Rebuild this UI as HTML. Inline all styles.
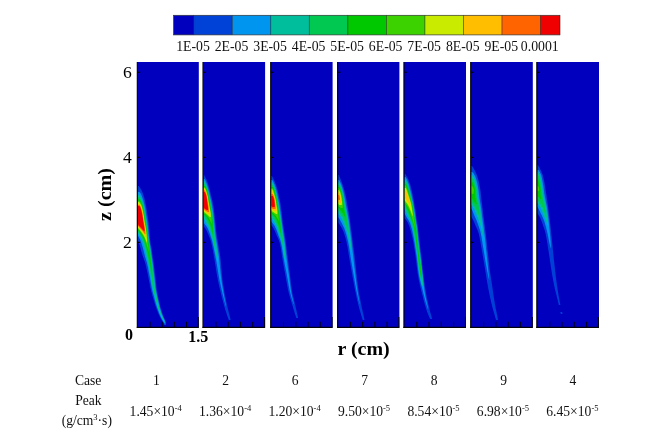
<!DOCTYPE html>
<html lang="en"><head><meta charset="utf-8"><title>Figure</title>
<style>html,body{margin:0;padding:0;background:#fff}body{width:671px;height:436px;overflow:hidden}</style></head>
<body>
<svg width="671" height="436" viewBox="0 0 671 436" style="display:block;font-family:'Liberation Serif','Times New Roman',serif">
<defs><filter id="bl" x="-5%" y="-5%" width="110%" height="110%"><feGaussianBlur stdDeviation="0.55"/></filter></defs>
<rect width="671" height="436" fill="#fff"/>
<rect x="173.60" y="15.30" width="20.40" height="19.60" fill="#0000be"/>
<rect x="193.70" y="15.30" width="38.83" height="19.60" fill="#0041d7"/>
<rect x="232.23" y="15.30" width="38.83" height="19.60" fill="#0096f0"/>
<rect x="270.76" y="15.30" width="38.83" height="19.60" fill="#00be9b"/>
<rect x="309.29" y="15.30" width="38.83" height="19.60" fill="#00c850"/>
<rect x="347.82" y="15.30" width="38.83" height="19.60" fill="#00c800"/>
<rect x="386.35" y="15.30" width="38.83" height="19.60" fill="#3cd200"/>
<rect x="424.88" y="15.30" width="38.83" height="19.60" fill="#c8eb00"/>
<rect x="463.41" y="15.30" width="38.83" height="19.60" fill="#ffbe00"/>
<rect x="501.94" y="15.30" width="38.83" height="19.60" fill="#ff6400"/>
<rect x="540.47" y="15.30" width="19.68" height="19.60" fill="#f00000"/>
<rect x="193.35" y="15.30" width="0.7" height="19.60" fill="#222" opacity="0.8"/>
<rect x="231.88" y="15.30" width="0.7" height="19.60" fill="#222" opacity="0.8"/>
<rect x="270.41" y="15.30" width="0.7" height="19.60" fill="#222" opacity="0.8"/>
<rect x="308.94" y="15.30" width="0.7" height="19.60" fill="#222" opacity="0.8"/>
<rect x="347.47" y="15.30" width="0.7" height="19.60" fill="#222" opacity="0.8"/>
<rect x="386.00" y="15.30" width="0.7" height="19.60" fill="#222" opacity="0.8"/>
<rect x="424.53" y="15.30" width="0.7" height="19.60" fill="#222" opacity="0.8"/>
<rect x="463.06" y="15.30" width="0.7" height="19.60" fill="#222" opacity="0.8"/>
<rect x="501.59" y="15.30" width="0.7" height="19.60" fill="#222" opacity="0.8"/>
<rect x="540.12" y="15.30" width="0.7" height="19.60" fill="#222" opacity="0.8"/>
<rect x="173.60" y="15.30" width="386.25" height="19.60" fill="none" stroke="#333" stroke-width="0.7"/>
<text transform="translate(193.00 50.7) scale(1.02 1.05)" font-size="13.5" text-anchor="middle" fill="#111">1E-05</text>
<text transform="translate(231.53 50.7) scale(1.02 1.05)" font-size="13.5" text-anchor="middle" fill="#111">2E-05</text>
<text transform="translate(270.06 50.7) scale(1.02 1.05)" font-size="13.5" text-anchor="middle" fill="#111">3E-05</text>
<text transform="translate(308.59 50.7) scale(1.02 1.05)" font-size="13.5" text-anchor="middle" fill="#111">4E-05</text>
<text transform="translate(347.12 50.7) scale(1.02 1.05)" font-size="13.5" text-anchor="middle" fill="#111">5E-05</text>
<text transform="translate(385.65 50.7) scale(1.02 1.05)" font-size="13.5" text-anchor="middle" fill="#111">6E-05</text>
<text transform="translate(424.18 50.7) scale(1.02 1.05)" font-size="13.5" text-anchor="middle" fill="#111">7E-05</text>
<text transform="translate(462.71 50.7) scale(1.02 1.05)" font-size="13.5" text-anchor="middle" fill="#111">8E-05</text>
<text transform="translate(501.24 50.7) scale(1.02 1.05)" font-size="13.5" text-anchor="middle" fill="#111">9E-05</text>
<text transform="translate(539.77 50.7) scale(1.02 1.05)" font-size="13.5" text-anchor="middle" fill="#111">0.0001</text>
<clipPath id="c0"><rect x="137.60" y="62.00" width="61.20" height="265.80"/></clipPath>
<rect x="137.40" y="62.00" width="61.40" height="265.80" fill="#0000be"/>
<g clip-path="url(#c0)"><g filter="url(#bl)">
<path fill="#0041d7" d="M137.9 186L137.9 187L137.9 188L137.9 189L137.9 190L137.9 191L137.9 192L137.9 193L137.9 194L137.9 195L137.9 196L137.9 197L137.9 198L137.9 199L137.9 200L137.9 201L137.9 202L137.9 203L137.9 204L137.9 205L137.9 206L137.9 207L137.9 208L137.9 209L137.9 210L137.9 211L137.9 212L137.9 213L137.9 214L137.9 215L137.9 216L137.9 217L137.9 218L137.9 219L137.9 220L137.9 221L137.9 222L137.9 223L137.9 224L137.9 225L137.9 226L137.9 227L137.9 228L137.9 229L137.9 230L137.9 231L137.9 232L137.9 233L137.9 234L137.9 235L137.9 236L137.9 237L137.9 238L137.9 239L137.9 240L138.2 241L138.6 242L138.9 243L139.3 244L139.6 245L139.9 246L140.2 247L140.5 248L140.7 249L141.0 250L141.3 251L141.5 252L141.8 253L142.1 254L142.4 255L142.7 256L143.1 257L143.5 258L143.8 259L144.2 260L144.5 261L144.9 262L145.2 263L145.5 264L145.7 265L146.0 266L146.2 267L146.4 268L146.6 269L146.9 270L147.1 271L147.3 272L147.5 273L147.7 274L147.9 275L148.1 276L148.3 277L148.5 278L148.7 279L148.9 280L149.1 281L149.3 282L149.5 283L149.7 284L149.8 285L150.0 286L150.2 287L150.5 288L150.7 289L150.9 290L151.2 291L151.4 292L151.7 293L152.0 294L152.2 295L152.5 296L152.8 297L153.1 298L153.4 299L153.7 300L154.0 301L154.3 302L154.6 303L154.9 304L155.2 305L155.5 306L155.9 307L156.2 308L156.6 309L157.0 310L157.4 311L157.7 312L158.1 313L158.6 314L159.0 315L159.5 316L159.9 317L160.5 318L161.0 319L161.6 320L162.2 321L162.8 322L163.4 323L163.9 324L164.2 325L166.1 325L166.1 324L165.9 323L165.7 322L165.4 321L165.0 320L164.6 319L164.2 318L163.7 317L163.3 316L163.0 315L162.6 314L162.3 313L161.9 312L161.6 311L161.3 310L161.0 309L160.7 308L160.4 307L160.2 306L159.9 305L159.7 304L159.4 303L159.2 302L159.0 301L158.8 300L158.6 299L158.4 298L158.1 297L157.9 296L157.7 295L157.5 294L157.3 293L157.2 292L157.0 291L156.8 290L156.7 289L156.5 288L156.4 287L156.3 286L156.2 285L156.1 284L156.0 283L155.8 282L155.7 281L155.6 280L155.5 279L155.4 278L155.3 277L155.2 276L155.1 275L155.0 274L154.8 273L154.7 272L154.6 271L154.5 270L154.4 269L154.2 268L154.1 267L154.0 266L153.9 265L153.7 264L153.6 263L153.5 262L153.3 261L153.2 260L153.0 259L152.9 258L152.7 257L152.6 256L152.4 255L152.3 254L152.2 253L152.0 252L151.9 251L151.7 250L151.6 249L151.4 248L151.2 247L151.1 246L150.9 245L150.7 244L150.5 243L150.4 242L150.2 241L150.1 240L149.9 239L149.8 238L149.7 237L149.6 236L149.5 235L149.5 234L149.4 233L149.4 232L149.3 231L149.2 230L149.2 229L149.1 228L149.0 227L148.9 226L148.8 225L148.7 224L148.6 223L148.5 222L148.3 221L148.2 220L148.0 219L147.9 218L147.7 217L147.6 216L147.4 215L147.3 214L147.1 213L147.0 212L146.8 211L146.7 210L146.5 209L146.3 208L146.2 207L146.0 206L145.8 205L145.6 204L145.4 203L145.2 202L145.0 201L144.7 200L144.5 199L144.3 198L144.0 197L143.7 196L143.4 195L143.1 194L142.7 193L142.3 192L141.9 191L141.3 190L140.8 189L140.1 188L139.4 187L138.8 186Z"/>
<path fill="#0096f0" d="M137.9 192L137.9 193L137.9 194L137.9 195L137.9 196L137.9 197L137.9 198L137.9 199L137.9 200L137.9 201L137.9 202L137.9 203L137.9 204L137.9 205L137.9 206L137.9 207L137.9 208L137.9 209L137.9 210L137.9 211L137.9 212L137.9 213L137.9 214L137.9 215L137.9 216L137.9 217L137.9 218L137.9 219L137.9 220L137.9 221L137.9 222L137.9 223L137.9 224L137.9 225L137.9 226L137.9 227L137.9 228L137.9 229L137.9 230L137.9 231L137.9 232L137.9 233L137.9 234L137.9 235L138.0 236L138.7 237L139.3 238L139.8 239L140.3 240L140.7 241L141.1 242L141.4 243L141.7 244L142.0 245L142.3 246L142.6 247L142.9 248L143.2 249L143.4 250L143.7 251L143.9 252L144.2 253L144.4 254L144.7 255L144.9 256L145.2 257L145.5 258L145.8 259L146.1 260L146.4 261L146.7 262L147.0 263L147.2 264L147.4 265L147.6 266L147.9 267L148.1 268L148.3 269L148.4 270L148.6 271L148.8 272L149.0 273L149.2 274L149.4 275L149.6 276L149.8 277L149.9 278L150.1 279L150.3 280L150.5 281L150.6 282L150.8 283L151.0 284L151.2 285L151.4 286L151.5 287L151.7 288L151.9 289L152.2 290L152.4 291L152.7 292L152.9 293L153.2 294L153.5 295L153.8 296L154.0 297L154.3 298L154.5 299L154.8 300L155.1 301L155.4 302L155.6 303L155.9 304L156.2 305L156.6 306L156.9 307L157.2 308L157.6 309L157.9 310L158.3 311L158.7 312L159.0 313L159.5 314L159.9 315L160.3 316L160.8 317L161.3 318L161.8 319L162.4 320L163.0 321L163.6 322L164.2 323L165.0 324L165.1 324L165.4 323L165.2 322L164.9 321L164.5 320L164.0 319L163.6 318L163.1 317L162.7 316L162.3 315L161.9 314L161.6 313L161.2 312L160.9 311L160.6 310L160.3 309L160.0 308L159.7 307L159.5 306L159.2 305L159.0 304L158.7 303L158.5 302L158.3 301L158.1 300L157.9 299L157.6 298L157.4 297L157.2 296L157.0 295L156.8 294L156.6 293L156.4 292L156.2 291L156.0 290L155.8 289L155.7 288L155.6 287L155.4 286L155.3 285L155.2 284L155.1 283L155.0 282L154.9 281L154.8 280L154.7 279L154.6 278L154.5 277L154.3 276L154.2 275L154.1 274L154.0 273L153.9 272L153.7 271L153.6 270L153.5 269L153.4 268L153.3 267L153.1 266L153.0 265L152.9 264L152.8 263L152.6 262L152.5 261L152.3 260L152.2 259L152.0 258L151.9 257L151.8 256L151.6 255L151.5 254L151.3 253L151.2 252L151.1 251L150.9 250L150.8 249L150.6 248L150.5 247L150.3 246L150.1 245L149.9 244L149.8 243L149.6 242L149.4 241L149.3 240L149.2 239L149.0 238L148.9 237L148.8 236L148.7 235L148.6 234L148.6 233L148.5 232L148.4 231L148.3 230L148.2 229L148.1 228L148.0 227L147.9 226L147.7 225L147.6 224L147.5 223L147.3 222L147.2 221L147.0 220L146.9 219L146.7 218L146.5 217L146.4 216L146.2 215L146.1 214L145.9 213L145.8 212L145.6 211L145.4 210L145.3 209L145.1 208L144.9 207L144.7 206L144.5 205L144.2 204L144.0 203L143.7 202L143.4 201L143.1 200L142.8 199L142.5 198L142.1 197L141.8 196L141.4 195L140.9 194L140.3 193L139.4 192Z"/>
<path fill="#00be9b" d="M137.9 195L137.9 196L137.9 197L137.9 198L137.9 199L137.9 200L137.9 201L137.9 202L137.9 203L137.9 204L137.9 205L137.9 206L137.9 207L137.9 208L137.9 209L137.9 210L137.9 211L137.9 212L137.9 213L137.9 214L137.9 215L137.9 216L137.9 217L137.9 218L137.9 219L137.9 220L137.9 221L137.9 222L137.9 223L137.9 224L137.9 225L137.9 226L137.9 227L137.9 228L137.9 229L137.9 230L137.9 231L137.9 232L137.9 233L138.4 234L139.1 235L139.8 236L140.4 237L141.0 238L141.5 239L141.9 240L142.3 241L142.6 242L142.9 243L143.3 244L143.6 245L143.9 246L144.2 247L144.4 248L144.7 249L144.9 250L145.2 251L145.4 252L145.6 253L145.9 254L146.1 255L146.3 256L146.6 257L146.9 258L147.1 259L147.4 260L147.6 261L147.9 262L148.1 263L148.3 264L148.5 265L148.7 266L148.9 267L149.1 268L149.3 269L149.5 270L149.6 271L149.8 272L150.0 273L150.2 274L150.3 275L150.5 276L150.7 277L150.9 278L151.0 279L151.2 280L151.4 281L151.5 282L151.7 283L151.9 284L152.0 285L152.2 286L152.4 287L152.6 288L152.8 289L153.0 290L153.2 291L153.5 292L153.7 293L154.0 294L154.3 295L154.6 296L154.8 297L155.1 298L155.3 299L155.6 300L155.8 301L156.1 302L156.4 303L156.6 304L156.9 305L157.2 306L157.5 307L157.9 308L158.2 309L158.5 310L158.9 311L159.3 312L159.6 313L160.0 314L160.5 315L160.9 316L161.4 317L161.9 318L162.4 319L162.9 320L163.5 321L164.1 322L164.7 322L164.4 321L164.0 320L163.5 319L163.1 318L162.6 317L162.2 316L161.8 315L161.4 314L161.0 313L160.7 312L160.3 311L160.0 310L159.7 309L159.4 308L159.2 307L158.9 306L158.6 305L158.4 304L158.2 303L157.9 302L157.7 301L157.5 300L157.3 299L157.1 298L156.9 297L156.7 296L156.4 295L156.2 294L156.0 293L155.8 292L155.6 291L155.4 290L155.2 289L155.1 288L154.9 287L154.8 286L154.7 285L154.6 284L154.5 283L154.4 282L154.2 281L154.1 280L154.0 279L153.9 278L153.8 277L153.7 276L153.6 275L153.5 274L153.3 273L153.2 272L153.1 271L153.0 270L152.9 269L152.8 268L152.6 267L152.5 266L152.4 265L152.3 264L152.1 263L152.0 262L151.9 261L151.7 260L151.6 259L151.4 258L151.3 257L151.2 256L151.0 255L150.9 254L150.8 253L150.6 252L150.5 251L150.4 250L150.2 249L150.1 248L149.9 247L149.7 246L149.6 245L149.4 244L149.2 243L149.1 242L148.9 241L148.8 240L148.6 239L148.5 238L148.4 237L148.3 236L148.2 235L148.1 234L148.0 233L147.9 232L147.8 231L147.7 230L147.6 229L147.4 228L147.3 227L147.2 226L147.0 225L146.9 224L146.7 223L146.5 222L146.4 221L146.2 220L146.1 219L145.9 218L145.8 217L145.6 216L145.4 215L145.3 214L145.1 213L145.0 212L144.8 211L144.6 210L144.4 209L144.2 208L144.0 207L143.8 206L143.5 205L143.3 204L143.0 203L142.7 202L142.4 201L142.0 200L141.5 199L141.1 198L140.6 197L140.1 196L139.4 195Z"/>
<path fill="#00c850" d="M137.9 197L137.9 198L137.9 199L137.9 200L137.9 201L137.9 202L137.9 203L137.9 204L137.9 205L137.9 206L137.9 207L137.9 208L137.9 209L137.9 210L137.9 211L137.9 212L137.9 213L137.9 214L137.9 215L137.9 216L137.9 217L137.9 218L137.9 219L137.9 220L137.9 221L137.9 222L137.9 223L137.9 224L137.9 225L137.9 226L137.9 227L137.9 228L137.9 229L137.9 230L137.9 231L138.2 232L139.0 233L139.7 234L140.4 235L141.1 236L141.7 237L142.2 238L142.7 239L143.1 240L143.5 241L143.8 242L144.1 243L144.4 244L144.7 245L145.0 246L145.3 247L145.6 248L145.9 249L146.1 250L146.3 251L146.6 252L146.8 253L147.0 254L147.2 255L147.4 256L147.7 257L147.9 258L148.1 259L148.4 260L148.6 261L148.8 262L149.0 263L149.2 264L149.4 265L149.6 266L149.7 267L149.9 268L150.1 269L150.3 270L150.4 271L150.6 272L150.8 273L150.9 274L151.1 275L151.3 276L151.4 277L151.6 278L151.8 279L151.9 280L152.1 281L152.2 282L152.4 283L152.6 284L152.7 285L152.9 286L153.1 287L153.2 288L153.4 289L153.7 290L153.9 291L154.1 292L154.4 293L154.7 294L155.0 295L155.2 296L155.5 297L155.7 298L156.0 299L156.2 300L156.5 301L156.7 302L157.0 303L157.2 304L157.5 305L157.8 306L158.1 307L158.4 308L158.8 309L159.1 310L159.1 310L158.9 309L158.7 308L158.4 307L158.2 306L157.9 305L157.7 304L157.5 303L157.3 302L157.1 301L156.9 300L156.7 299L156.5 298L156.3 297L156.0 296L155.8 295L155.6 294L155.3 293L155.1 292L154.9 291L154.7 290L154.5 289L154.4 288L154.3 287L154.1 286L154.0 285L153.9 284L153.8 283L153.7 282L153.6 281L153.5 280L153.4 279L153.3 278L153.2 277L153.1 276L153.0 275L152.9 274L152.7 273L152.6 272L152.5 271L152.4 270L152.3 269L152.2 268L152.1 267L151.9 266L151.8 265L151.7 264L151.6 263L151.4 262L151.3 261L151.2 260L151.0 259L150.9 258L150.8 257L150.6 256L150.5 255L150.4 254L150.2 253L150.1 252L150.0 251L149.9 250L149.7 249L149.6 248L149.4 247L149.3 246L149.1 245L148.9 244L148.8 243L148.6 242L148.5 241L148.3 240L148.2 239L148.1 238L148.0 237L147.8 236L147.7 235L147.6 234L147.5 233L147.4 232L147.3 231L147.2 230L147.0 229L146.9 228L146.7 227L146.6 226L146.4 225L146.3 224L146.1 223L145.9 222L145.8 221L145.6 220L145.5 219L145.3 218L145.2 217L145.0 216L144.8 215L144.7 214L144.5 213L144.3 212L144.2 211L144.0 210L143.8 209L143.6 208L143.3 207L143.1 206L142.8 205L142.5 204L142.2 203L141.8 202L141.4 201L140.9 200L140.3 199L139.6 198L138.4 197Z"/>
<path fill="#00c800" d="M137.9 199L137.9 200L137.9 201L137.9 202L137.9 203L137.9 204L137.9 205L137.9 206L137.9 207L137.9 208L137.9 209L137.9 210L137.9 211L137.9 212L137.9 213L137.9 214L137.9 215L137.9 216L137.9 217L137.9 218L137.9 219L137.9 220L137.9 221L137.9 222L137.9 223L137.9 224L137.9 225L137.9 226L137.9 227L137.9 228L137.9 229L137.9 230L138.6 231L139.4 232L140.1 233L140.9 234L141.5 235L142.2 236L142.8 237L143.3 238L143.7 239L144.1 240L144.4 241L144.8 242L145.1 243L145.4 244L145.7 245L146.0 246L146.3 247L146.6 248L146.9 249L147.1 250L147.3 251L147.6 252L147.8 253L148.0 254L148.2 255L148.4 256L148.6 257L148.8 258L149.0 259L149.2 260L149.4 261L149.6 262L149.8 263L150.0 264L150.2 265L150.3 266L150.5 267L150.7 268L150.8 269L151.0 270L151.2 271L151.3 272L151.5 273L151.7 274L151.8 275L152.1 275L152.0 274L151.9 273L151.8 272L151.7 271L151.7 270L151.6 269L151.5 268L151.4 267L151.3 266L151.1 265L151.0 264L150.9 263L150.8 262L150.7 261L150.6 260L150.4 259L150.3 258L150.2 257L150.0 256L149.9 255L149.8 254L149.7 253L149.6 252L149.5 251L149.3 250L149.2 249L149.1 248L148.9 247L148.8 246L148.6 245L148.5 244L148.3 243L148.2 242L148.0 241L147.9 240L147.8 239L147.7 238L147.6 237L147.4 236L147.3 235L147.2 234L147.1 233L147.0 232L146.9 231L146.7 230L146.6 229L146.4 228L146.3 227L146.1 226L145.9 225L145.8 224L145.6 223L145.4 222L145.3 221L145.1 220L145.0 219L144.8 218L144.6 217L144.5 216L144.3 215L144.1 214L144.0 213L143.8 212L143.6 211L143.4 210L143.2 209L143.0 208L142.8 207L142.5 206L142.2 205L141.8 204L141.4 203L141.0 202L140.5 201L139.8 200L138.6 199Z"/>
<path fill="#3cd200" d="M137.9 201L137.9 202L137.9 203L137.9 204L137.9 205L137.9 206L137.9 207L137.9 208L137.9 209L137.9 210L137.9 211L137.9 212L137.9 213L137.9 214L137.9 215L137.9 216L137.9 217L137.9 218L137.9 219L137.9 220L137.9 221L137.9 222L137.9 223L137.9 224L137.9 225L137.9 226L137.9 227L137.9 228L138.0 229L138.9 230L139.7 231L140.4 232L141.2 233L141.9 234L142.5 235L143.1 236L143.7 237L144.2 238L144.6 239L145.0 240L145.3 241L145.7 242L146.0 243L146.3 244L146.6 245L147.0 246L147.3 247L147.6 248L147.9 249L148.1 250L148.4 251L148.6 252L148.7 252L148.7 251L148.6 250L148.6 249L148.5 248L148.4 247L148.3 246L148.1 245L148.0 244L147.8 243L147.7 242L147.6 241L147.5 240L147.4 239L147.3 238L147.2 237L147.1 236L146.9 235L146.8 234L146.7 233L146.6 232L146.5 231L146.3 230L146.2 229L146.0 228L145.8 227L145.7 226L145.5 225L145.3 224L145.1 223L145.0 222L144.8 221L144.6 220L144.5 219L144.3 218L144.2 217L144.0 216L143.9 215L143.7 214L143.5 213L143.3 212L143.1 211L142.9 210L142.7 209L142.5 208L142.2 207L141.9 206L141.6 205L141.1 204L140.7 203L140.1 202L139.4 201Z"/>
<path fill="#c8eb00" d="M137.9 202L137.9 203L137.9 204L137.9 205L137.9 206L137.9 207L137.9 208L137.9 209L137.9 210L137.9 211L137.9 212L137.9 213L137.9 214L137.9 215L137.9 216L137.9 217L137.9 218L137.9 219L137.9 220L137.9 221L137.9 222L137.9 223L137.9 224L137.9 225L137.9 226L137.9 227L138.0 228L139.0 229L139.8 230L140.6 231L141.4 232L142.1 233L142.8 234L143.5 235L144.0 236L144.6 237L145.0 238L145.4 239L145.8 240L146.2 241L146.6 242L147.0 243L147.0 243L147.1 242L147.0 241L147.0 240L146.9 239L146.8 238L146.7 237L146.6 236L146.5 235L146.4 234L146.3 233L146.2 232L146.1 231L145.9 230L145.8 229L145.6 228L145.4 227L145.3 226L145.1 225L144.9 224L144.7 223L144.5 222L144.4 221L144.2 220L144.1 219L143.9 218L143.8 217L143.6 216L143.4 215L143.3 214L143.1 213L142.9 212L142.7 211L142.5 210L142.3 209L142.0 208L141.7 207L141.4 206L141.0 205L140.4 204L139.8 203L138.9 202Z"/>
<path fill="#ffbe00" d="M137.9 204L137.9 205L137.9 206L137.9 207L137.9 208L137.9 209L137.9 210L137.9 211L137.9 212L137.9 213L137.9 214L137.9 215L137.9 216L137.9 217L137.9 218L137.9 219L137.9 220L137.9 221L137.9 222L137.9 223L137.9 224L137.9 225L137.9 226L138.1 227L139.0 228L139.9 229L140.8 230L141.6 231L142.3 232L143.1 233L143.7 234L144.4 235L145.0 236L145.5 237L146.2 237L146.1 236L146.1 235L146.0 234L145.9 233L145.8 232L145.7 231L145.5 230L145.4 229L145.2 228L145.0 227L144.8 226L144.7 225L144.5 224L144.3 223L144.1 222L144.0 221L143.8 220L143.7 219L143.5 218L143.4 217L143.2 216L143.0 215L142.9 214L142.7 213L142.5 212L142.3 211L142.1 210L141.8 209L141.5 208L141.2 207L140.8 206L140.3 205L139.6 204Z"/>
<path fill="#ff6400" d="M137.9 205L137.9 206L137.9 207L137.9 208L137.9 209L137.9 210L137.9 211L137.9 212L137.9 213L137.9 214L137.9 215L137.9 216L137.9 217L137.9 218L137.9 219L137.9 220L137.9 221L137.9 222L137.9 223L137.9 224L137.9 225L138.1 226L139.1 227L140.0 228L140.9 229L141.8 230L142.6 231L143.3 232L144.1 233L144.8 234L145.4 234L145.4 233L145.3 232L145.2 231L145.1 230L144.9 229L144.8 228L144.6 227L144.4 226L144.2 225L144.1 224L143.9 223L143.7 222L143.6 221L143.4 220L143.3 219L143.1 218L143.0 217L142.8 216L142.6 215L142.5 214L142.3 213L142.1 212L141.9 211L141.6 210L141.4 209L141.0 208L140.7 207L140.2 206L139.5 205Z"/>
<path fill="#f00000" d="M137.9 206L137.9 207L137.9 208L137.9 209L137.9 210L137.9 211L137.9 212L137.9 213L137.9 214L137.9 215L137.9 216L137.9 217L137.9 218L137.9 219L137.9 220L137.9 221L137.9 222L137.9 223L137.9 224L138.3 225L139.2 226L140.2 227L141.1 228L142.0 229L142.9 230L143.8 231L144.6 231L144.5 230L144.4 229L144.3 228L144.1 227L144.0 226L143.8 225L143.6 224L143.5 223L143.3 222L143.1 221L143.0 220L142.9 219L142.8 218L142.6 217L142.4 216L142.3 215L142.1 214L141.9 213L141.7 212L141.4 211L141.2 210L140.9 209L140.5 208L140.1 207L139.4 206Z"/>
</g></g>
<rect x="136.75" y="62.00" width="1.15" height="265.95" fill="#000"/>
<rect x="136.75" y="326.80" width="62.05" height="1.15" fill="#000"/>
<rect x="137.90" y="241.81" width="2.3" height="1.1" fill="#000"/>
<rect x="137.90" y="156.77" width="2.3" height="1.1" fill="#000"/>
<rect x="137.90" y="71.73" width="2.3" height="1.1" fill="#000"/>
<rect x="149.55" y="321.80" width="1" height="5.20" fill="#000" opacity="0.9"/>
<rect x="161.70" y="321.80" width="1" height="5.20" fill="#000" opacity="0.9"/>
<rect x="173.85" y="321.80" width="1" height="5.20" fill="#000" opacity="0.9"/>
<rect x="186.00" y="321.80" width="1" height="5.20" fill="#000" opacity="0.9"/>
<rect x="197.70" y="317.00" width="1.1" height="10.00" fill="#000" opacity="0.9"/>
<clipPath id="c1"><rect x="203.30" y="62.00" width="61.80" height="265.80"/></clipPath>
<rect x="203.10" y="62.00" width="62.00" height="265.80" fill="#0000be"/>
<g clip-path="url(#c1)"><g filter="url(#bl)">
<path fill="#0041d7" d="M203.6 175L203.6 176L203.6 177L203.6 178L203.6 179L203.6 180L203.6 181L203.6 182L203.6 183L203.6 184L203.6 185L203.6 186L203.6 187L203.6 188L203.6 189L203.6 190L203.6 191L203.6 192L203.6 193L203.6 194L203.6 195L203.6 196L203.6 197L203.6 198L203.6 199L203.6 200L203.6 201L203.6 202L203.6 203L203.6 204L203.6 205L203.6 206L203.6 207L203.6 208L203.6 209L203.6 210L203.6 211L203.6 212L203.6 213L203.6 214L203.6 215L203.6 216L203.6 217L203.6 218L203.6 219L203.6 220L203.6 221L203.6 222L203.6 223L203.6 224L203.6 225L203.6 226L204.3 227L205.0 228L205.7 229L206.2 230L206.8 231L207.2 232L207.7 233L208.1 234L208.5 235L208.9 236L209.3 237L209.7 238L210.1 239L210.4 240L210.8 241L211.1 242L211.3 243L211.6 244L211.8 245L212.0 246L212.2 247L212.4 248L212.6 249L212.8 250L213.0 251L213.2 252L213.3 253L213.5 254L213.7 255L213.8 256L214.0 257L214.2 258L214.4 259L214.5 260L214.7 261L214.9 262L215.0 263L215.2 264L215.3 265L215.5 266L215.7 267L215.8 268L216.0 269L216.1 270L216.3 271L216.5 272L216.6 273L216.8 274L217.0 275L217.1 276L217.3 277L217.5 278L217.7 279L217.9 280L218.1 281L218.3 282L218.5 283L218.7 284L219.0 285L219.2 286L219.4 287L219.6 288L219.9 289L220.1 290L220.4 291L220.6 292L220.8 293L221.1 294L221.3 295L221.6 296L221.8 297L222.1 298L222.3 299L222.6 300L222.9 301L223.1 302L223.4 303L223.7 304L224.0 305L224.2 306L224.5 307L224.8 308L225.1 309L225.4 310L225.7 311L226.1 312L226.4 313L226.7 314L227.0 315L227.4 316L227.7 317L228.1 318L228.4 319L228.8 320L230.6 320L230.4 319L230.2 318L230.0 317L229.7 316L229.5 315L229.2 314L228.9 313L228.7 312L228.4 311L228.2 310L227.9 309L227.7 308L227.4 307L227.2 306L227.0 305L226.8 304L226.5 303L226.3 302L226.1 301L225.9 300L225.7 299L225.5 298L225.3 297L225.1 296L224.9 295L224.7 294L224.5 293L224.3 292L224.2 291L224.0 290L223.8 289L223.7 288L223.5 287L223.3 286L223.2 285L223.0 284L222.9 283L222.7 282L222.6 281L222.4 280L222.3 279L222.2 278L222.1 277L222.0 276L221.9 275L221.8 274L221.7 273L221.6 272L221.6 271L221.5 270L221.4 269L221.3 268L221.3 267L221.2 266L221.1 265L221.0 264L220.9 263L220.8 262L220.7 261L220.6 260L220.5 259L220.4 258L220.3 257L220.1 256L220.0 255L219.8 254L219.7 253L219.5 252L219.3 251L219.2 250L219.0 249L218.8 248L218.6 247L218.5 246L218.3 245L218.1 244L218.0 243L217.8 242L217.6 241L217.5 240L217.3 239L217.1 238L217.0 237L216.8 236L216.7 235L216.5 234L216.4 233L216.2 232L216.1 231L216.0 230L215.9 229L215.8 228L215.7 227L215.6 226L215.5 225L215.4 224L215.3 223L215.2 222L215.1 221L215.0 220L214.9 219L214.8 218L214.7 217L214.6 216L214.5 215L214.4 214L214.3 213L214.1 212L214.0 211L213.9 210L213.8 209L213.7 208L213.5 207L213.4 206L213.2 205L213.0 204L212.8 203L212.6 202L212.4 201L212.1 200L211.9 199L211.6 198L211.4 197L211.1 196L210.9 195L210.7 194L210.4 193L210.2 192L210.0 191L209.7 190L209.5 189L209.2 188L208.9 187L208.6 186L208.3 185L208.0 184L207.7 183L207.4 182L207.0 181L206.6 180L206.2 179L205.7 178L205.1 177L204.6 176L204.2 175Z"/>
<path fill="#0096f0" d="M203.6 179L203.6 180L203.6 181L203.6 182L203.6 183L203.6 184L203.6 185L203.6 186L203.6 187L203.6 188L203.6 189L203.6 190L203.6 191L203.6 192L203.6 193L203.6 194L203.6 195L203.6 196L203.6 197L203.6 198L203.6 199L203.6 200L203.6 201L203.6 202L203.6 203L203.6 204L203.6 205L203.6 206L203.6 207L203.6 208L203.6 209L203.6 210L203.6 211L203.6 212L203.6 213L203.6 214L203.6 215L203.6 216L203.6 217L203.6 218L203.6 219L203.6 220L203.6 221L203.6 222L203.8 223L204.6 224L205.4 225L206.2 226L206.9 227L207.5 228L207.9 229L208.4 230L208.8 231L209.2 232L209.5 233L209.9 234L210.2 235L210.5 236L210.8 237L211.2 238L211.5 239L211.8 240L212.1 241L212.3 242L212.6 243L212.8 244L213.0 245L213.3 246L213.5 247L213.7 248L213.9 249L214.1 250L214.3 251L214.5 252L214.7 253L214.9 254L215.1 255L215.3 256L215.5 257L215.7 258L215.9 259L216.1 260L216.3 261L216.5 262L216.6 263L216.8 264L217.0 265L217.1 266L217.3 267L217.5 268L217.6 269L217.8 270L217.9 271L218.1 272L218.3 273L218.4 274L218.6 275L218.8 276L219.0 277L219.1 278L219.3 279L219.5 280L219.7 281L219.9 282L220.2 283L220.4 284L220.6 285L220.8 286L221.0 287L221.3 288L221.5 289L221.7 290L222.0 291L222.2 292L222.4 293L222.7 294L222.9 295L223.2 296L223.4 297L223.7 298L223.9 299L224.2 300L224.4 301L224.7 302L225.0 303L225.2 304L225.5 305L225.8 306L226.0 306L225.9 305L225.7 304L225.5 303L225.3 302L225.1 301L224.9 300L224.7 299L224.5 298L224.3 297L224.1 296L224.0 295L223.8 294L223.6 293L223.4 292L223.2 291L223.1 290L222.9 289L222.7 288L222.5 287L222.4 286L222.2 285L222.1 284L221.9 283L221.7 282L221.6 281L221.5 280L221.3 279L221.2 278L221.1 277L220.9 276L220.8 275L220.7 274L220.6 273L220.5 272L220.4 271L220.3 270L220.2 269L220.1 268L220.0 267L219.9 266L219.8 265L219.7 264L219.6 263L219.5 262L219.4 261L219.3 260L219.2 259L219.1 258L219.0 257L218.9 256L218.7 255L218.6 254L218.4 253L218.3 252L218.1 251L218.0 250L217.8 249L217.6 248L217.5 247L217.3 246L217.2 245L217.0 244L216.8 243L216.7 242L216.5 241L216.4 240L216.2 239L216.1 238L215.9 237L215.8 236L215.6 235L215.5 234L215.4 233L215.3 232L215.1 231L215.0 230L214.9 229L214.8 228L214.8 227L214.7 226L214.6 225L214.5 224L214.4 223L214.3 222L214.2 221L214.1 220L214.0 219L213.9 218L213.8 217L213.7 216L213.5 215L213.4 214L213.3 213L213.1 212L213.0 211L212.8 210L212.7 209L212.5 208L212.3 207L212.2 206L212.0 205L211.8 204L211.6 203L211.4 202L211.2 201L211.0 200L210.8 199L210.5 198L210.3 197L210.1 196L209.8 195L209.6 194L209.4 193L209.1 192L208.9 191L208.6 190L208.4 189L208.1 188L207.8 187L207.4 186L207.1 185L206.8 184L206.4 183L206.0 182L205.6 181L205.1 180L204.5 179Z"/>
<path fill="#00be9b" d="M203.6 181L203.6 182L203.6 183L203.6 184L203.6 185L203.6 186L203.6 187L203.6 188L203.6 189L203.6 190L203.6 191L203.6 192L203.6 193L203.6 194L203.6 195L203.6 196L203.6 197L203.6 198L203.6 199L203.6 200L203.6 201L203.6 202L203.6 203L203.6 204L203.6 205L203.6 206L203.6 207L203.6 208L203.6 209L203.6 210L203.6 211L203.6 212L203.6 213L203.6 214L203.6 215L203.6 216L203.6 217L203.6 218L204.1 219L204.7 220L205.1 221L205.6 222L206.2 223L206.8 224L207.4 225L208.0 226L208.6 227L209.0 228L209.4 229L209.7 230L210.1 231L210.4 232L210.7 233L211.0 234L211.3 235L211.6 236L211.8 237L212.1 238L212.4 239L212.7 240L212.9 241L213.2 242L213.4 243L213.6 244L213.8 245L214.1 246L214.3 247L214.5 248L214.7 249L214.9 250L215.2 251L215.4 252L215.6 253L215.8 254L216.1 255L216.3 256L216.5 257L216.8 258L217.0 259L217.2 260L217.4 261L217.6 262L218.0 262L218.0 261L217.9 260L217.9 259L217.8 258L217.7 257L217.7 256L217.6 255L217.5 254L217.3 253L217.2 252L217.1 251L216.9 250L216.8 249L216.7 248L216.5 247L216.4 246L216.2 245L216.1 244L215.9 243L215.8 242L215.7 241L215.5 240L215.4 239L215.3 238L215.1 237L215.0 236L214.9 235L214.8 234L214.6 233L214.5 232L214.4 231L214.3 230L214.2 229L214.2 228L214.1 227L214.0 226L213.9 225L213.8 224L213.7 223L213.6 222L213.5 221L213.4 220L213.3 219L213.2 218L213.1 217L213.0 216L212.9 215L212.7 214L212.6 213L212.4 212L212.2 211L212.1 210L211.9 209L211.7 208L211.5 207L211.4 206L211.2 205L211.0 204L210.8 203L210.6 202L210.4 201L210.2 200L210.0 199L209.8 198L209.6 197L209.3 196L209.1 195L208.9 194L208.6 193L208.4 192L208.2 191L207.9 190L207.6 189L207.3 188L206.9 187L206.6 186L206.2 185L205.8 184L205.3 183L204.8 182L203.8 181Z"/>
<path fill="#00c850" d="M203.6 184L203.6 185L203.6 186L203.6 187L203.6 188L203.6 189L203.6 190L203.6 191L203.6 192L203.6 193L203.6 194L203.6 195L203.6 196L203.6 197L203.6 198L203.6 199L203.6 200L203.6 201L203.6 202L203.6 203L203.6 204L203.6 205L203.6 206L203.6 207L203.6 208L203.6 209L203.6 210L203.6 211L203.6 212L203.6 213L203.6 214L203.6 215L204.0 216L204.8 217L205.5 218L206.1 219L206.7 220L207.1 221L207.5 222L208.0 223L208.5 224L209.0 225L209.5 226L209.9 227L210.2 228L210.5 229L210.8 230L211.1 231L211.4 232L211.6 233L211.9 234L212.1 235L212.4 236L212.6 237L212.9 238L213.1 239L213.4 240L213.6 241L213.9 242L214.1 243L214.3 244L214.5 245L214.8 246L215.0 246L215.0 245L215.0 244L214.9 243L214.8 242L214.7 241L214.6 240L214.5 239L214.4 238L214.3 237L214.2 236L214.1 235L214.0 234L213.9 233L213.8 232L213.8 231L213.7 230L213.6 229L213.5 228L213.4 227L213.4 226L213.3 225L213.2 224L213.1 223L213.1 222L213.0 221L212.9 220L212.8 219L212.7 218L212.6 217L212.5 216L212.3 215L212.2 214L212.0 213L211.8 212L211.7 211L211.5 210L211.3 209L211.1 208L210.9 207L210.7 206L210.5 205L210.4 204L210.2 203L210.0 202L209.8 201L209.6 200L209.4 199L209.2 198L209.0 197L208.8 196L208.6 195L208.3 194L208.1 193L207.8 192L207.6 191L207.3 190L207.0 189L206.6 188L206.2 187L205.8 186L205.3 185L204.7 184Z"/>
<path fill="#00c800" d="M203.6 186L203.6 187L203.6 188L203.6 189L203.6 190L203.6 191L203.6 192L203.6 193L203.6 194L203.6 195L203.6 196L203.6 197L203.6 198L203.6 199L203.6 200L203.6 201L203.6 202L203.6 203L203.6 204L203.6 205L203.6 206L203.6 207L203.6 208L203.6 209L203.6 210L203.6 211L203.6 212L203.6 213L203.6 214L204.6 215L205.6 216L206.5 217L207.2 218L207.8 219L208.3 220L208.7 221L209.1 222L209.6 223L210.0 224L210.4 225L210.7 226L211.0 227L211.3 228L211.5 229L211.8 230L212.0 231L212.3 232L212.5 233L212.8 234L212.9 234L213.0 233L213.0 232L212.9 231L212.9 230L212.9 229L212.8 228L212.8 227L212.7 226L212.7 225L212.6 224L212.6 223L212.5 222L212.4 221L212.3 220L212.2 219L212.1 218L212.1 217L212.0 216L211.8 215L211.7 214L211.5 213L211.3 212L211.1 211L210.9 210L210.7 209L210.5 208L210.4 207L210.2 206L210.0 205L209.8 204L209.6 203L209.5 202L209.3 201L209.1 200L208.9 199L208.7 198L208.5 197L208.3 196L208.1 195L207.8 194L207.6 193L207.3 192L207.0 191L206.8 190L206.4 189L206.0 188L205.5 187L204.9 186Z"/>
<path fill="#3cd200" d="M203.6 187L203.6 188L203.6 189L203.6 190L203.6 191L203.6 192L203.6 193L203.6 194L203.6 195L203.6 196L203.6 197L203.6 198L203.6 199L203.6 200L203.6 201L203.6 202L203.6 203L203.6 204L203.6 205L203.6 206L203.6 207L203.6 208L203.6 209L203.6 210L203.6 211L203.6 212L203.8 213L205.0 214L206.2 215L207.2 216L208.0 217L208.8 218L209.4 219L209.9 220L210.3 221L210.7 222L211.1 223L211.5 224L211.6 224L211.7 223L211.7 222L211.7 221L211.7 220L211.6 219L211.6 218L211.5 217L211.4 216L211.4 215L211.2 214L211.1 213L210.9 212L210.7 211L210.4 210L210.2 209L210.0 208L209.9 207L209.7 206L209.5 205L209.3 204L209.2 203L209.0 202L208.8 201L208.6 200L208.5 199L208.3 198L208.1 197L207.9 196L207.6 195L207.4 194L207.1 193L206.9 192L206.6 191L206.2 190L205.9 189L205.4 188L204.6 187Z"/>
<path fill="#c8eb00" d="M203.6 188L203.6 189L203.6 190L203.6 191L203.6 192L203.6 193L203.6 194L203.6 195L203.6 196L203.6 197L203.6 198L203.6 199L203.6 200L203.6 201L203.6 202L203.6 203L203.6 204L203.6 205L203.6 206L203.6 207L203.6 208L203.6 209L203.6 210L203.6 211L204.1 212L205.4 213L206.6 214L207.8 215L208.8 216L209.8 217L210.8 217L210.8 216L210.8 215L210.7 214L210.6 213L210.4 212L210.2 211L210.0 210L209.7 209L209.6 208L209.4 207L209.2 206L209.0 205L208.9 204L208.7 203L208.5 202L208.4 201L208.2 200L208.0 199L207.9 198L207.7 197L207.5 196L207.2 195L207.0 194L206.7 193L206.4 192L206.1 191L205.7 190L205.3 189L204.5 188Z"/>
<path fill="#ffbe00" d="M203.6 189L203.6 190L203.6 191L203.6 192L203.6 193L203.6 194L203.6 195L203.6 196L203.6 197L203.6 198L203.6 199L203.6 200L203.6 201L203.6 202L203.6 203L203.6 204L203.6 205L203.6 206L203.6 207L203.6 208L203.6 209L203.6 210L204.4 211L205.7 212L207.0 213L208.4 214L210.0 214L210.0 213L209.8 212L209.7 211L209.5 210L209.3 209L209.1 208L208.9 207L208.7 206L208.6 205L208.4 204L208.3 203L208.1 202L208.0 201L207.8 200L207.7 199L207.5 198L207.3 197L207.1 196L206.8 195L206.6 194L206.3 193L206.0 192L205.6 191L205.1 190L204.4 189Z"/>
<path fill="#ff6400" d="M203.6 190L203.6 191L203.6 192L203.6 193L203.6 194L203.6 195L203.6 196L203.6 197L203.6 198L203.6 199L203.6 200L203.6 201L203.6 202L203.6 203L203.6 204L203.6 205L203.6 206L203.6 207L203.6 208L203.6 209L204.7 210L206.1 211L207.7 212L209.1 212L209.0 211L208.9 210L208.7 209L208.6 208L208.4 207L208.3 206L208.1 205L208.0 204L207.8 203L207.7 202L207.5 201L207.4 200L207.3 199L207.1 198L206.9 197L206.7 196L206.4 195L206.2 194L205.8 193L205.5 192L205.0 191L204.2 190Z"/>
<path fill="#f00000" d="M203.6 192L203.6 193L203.6 194L203.6 195L203.6 196L203.6 197L203.6 198L203.6 199L203.6 200L203.6 201L203.6 202L203.6 203L203.6 204L203.6 205L203.6 206L203.6 207L203.9 208L205.2 209L207.0 210L208.0 210L208.1 209L208.0 208L207.9 207L207.8 206L207.6 205L207.5 204L207.4 203L207.3 202L207.1 201L207.0 200L206.9 199L206.7 198L206.5 197L206.3 196L206.0 195L205.7 194L205.3 193L204.8 192Z"/>
</g></g>
<rect x="202.45" y="62.00" width="1.15" height="265.95" fill="#000"/>
<rect x="202.45" y="326.80" width="62.65" height="1.15" fill="#000"/>
<rect x="203.60" y="241.81" width="2.3" height="1.1" fill="#000"/>
<rect x="203.60" y="156.77" width="2.3" height="1.1" fill="#000"/>
<rect x="203.60" y="71.73" width="2.3" height="1.1" fill="#000"/>
<rect x="215.37" y="321.80" width="1" height="5.20" fill="#000" opacity="0.9"/>
<rect x="227.64" y="321.80" width="1" height="5.20" fill="#000" opacity="0.9"/>
<rect x="239.91" y="321.80" width="1" height="5.20" fill="#000" opacity="0.9"/>
<rect x="252.18" y="321.80" width="1" height="5.20" fill="#000" opacity="0.9"/>
<rect x="264.00" y="317.00" width="1.1" height="10.00" fill="#000" opacity="0.9"/>
<clipPath id="c2"><rect x="271.00" y="62.00" width="61.60" height="265.80"/></clipPath>
<rect x="270.80" y="62.00" width="61.80" height="265.80" fill="#0000be"/>
<g clip-path="url(#c2)"><g filter="url(#bl)">
<path fill="#0041d7" d="M271.3 176L271.3 177L271.3 178L271.3 179L271.3 180L271.3 181L271.3 182L271.3 183L271.3 184L271.3 185L271.3 186L271.3 187L271.3 188L271.3 189L271.3 190L271.3 191L271.3 192L271.3 193L271.3 194L271.3 195L271.3 196L271.3 197L271.3 198L271.3 199L271.3 200L271.3 201L271.3 202L271.3 203L271.3 204L271.3 205L271.3 206L271.3 207L271.3 208L271.3 209L271.3 210L271.3 211L271.3 212L271.3 213L271.3 214L271.3 215L271.3 216L271.3 217L271.3 218L271.3 219L271.3 220L271.3 221L271.3 222L271.3 223L271.3 224L271.3 225L271.9 226L272.7 227L273.3 228L273.9 229L274.4 230L274.9 231L275.3 232L275.7 233L276.1 234L276.5 235L276.9 236L277.4 237L277.8 238L278.3 239L278.7 240L279.1 241L279.4 242L279.7 243L280.0 244L280.2 245L280.4 246L280.6 247L280.8 248L280.9 249L281.1 250L281.2 251L281.4 252L281.5 253L281.7 254L281.8 255L282.0 256L282.1 257L282.3 258L282.5 259L282.6 260L282.8 261L283.0 262L283.2 263L283.3 264L283.5 265L283.7 266L283.9 267L284.1 268L284.2 269L284.4 270L284.6 271L284.8 272L285.0 273L285.2 274L285.3 275L285.5 276L285.7 277L285.9 278L286.1 279L286.3 280L286.4 281L286.6 282L286.8 283L287.0 284L287.2 285L287.3 286L287.5 287L287.7 288L287.9 289L288.1 290L288.4 291L288.6 292L288.8 293L289.1 294L289.4 295L289.6 296L289.9 297L290.2 298L290.5 299L290.8 300L291.1 301L291.4 302L291.7 303L292.0 304L292.3 305L292.6 306L292.9 307L293.2 308L293.5 309L293.8 310L294.1 311L294.4 312L294.7 313L295.0 314L295.4 315L295.7 316L296.0 317L296.3 318L298.1 318L297.9 317L297.7 316L297.5 315L297.2 314L297.0 313L296.8 312L296.6 311L296.3 310L296.1 309L295.9 308L295.6 307L295.4 306L295.2 305L294.9 304L294.7 303L294.5 302L294.2 301L294.0 300L293.7 299L293.5 298L293.2 297L293.0 296L292.8 295L292.5 294L292.3 293L292.2 292L292.0 291L291.8 290L291.7 289L291.5 288L291.4 287L291.3 286L291.1 285L291.0 284L290.9 283L290.8 282L290.7 281L290.5 280L290.4 279L290.3 278L290.2 277L290.0 276L289.9 275L289.8 274L289.7 273L289.5 272L289.4 271L289.3 270L289.1 269L289.0 268L288.9 267L288.7 266L288.6 265L288.5 264L288.4 263L288.2 262L288.1 261L288.0 260L287.8 259L287.7 258L287.6 257L287.5 256L287.3 255L287.2 254L287.1 253L287.0 252L286.9 251L286.7 250L286.6 249L286.5 248L286.4 247L286.2 246L286.1 245L286.0 244L285.8 243L285.7 242L285.6 241L285.4 240L285.3 239L285.1 238L285.0 237L284.8 236L284.7 235L284.5 234L284.4 233L284.2 232L284.0 231L283.9 230L283.7 229L283.6 228L283.4 227L283.3 226L283.1 225L283.0 224L282.8 223L282.7 222L282.6 221L282.5 220L282.3 219L282.2 218L282.1 217L282.0 216L281.9 215L281.8 214L281.7 213L281.5 212L281.4 211L281.3 210L281.2 209L281.1 208L280.9 207L280.8 206L280.6 205L280.5 204L280.3 203L280.1 202L279.9 201L279.7 200L279.5 199L279.3 198L279.0 197L278.8 196L278.6 195L278.4 194L278.2 193L277.9 192L277.7 191L277.4 190L277.2 189L276.9 188L276.6 187L276.3 186L276.0 185L275.6 184L275.2 183L274.8 182L274.4 181L274.0 180L273.5 179L273.0 178L272.5 177L272.0 176Z"/>
<path fill="#0096f0" d="M271.3 180L271.3 181L271.3 182L271.3 183L271.3 184L271.3 185L271.3 186L271.3 187L271.3 188L271.3 189L271.3 190L271.3 191L271.3 192L271.3 193L271.3 194L271.3 195L271.3 196L271.3 197L271.3 198L271.3 199L271.3 200L271.3 201L271.3 202L271.3 203L271.3 204L271.3 205L271.3 206L271.3 207L271.3 208L271.3 209L271.3 210L271.3 211L271.3 212L271.3 213L271.3 214L271.3 215L271.3 216L271.3 217L271.3 218L271.3 219L271.3 220L271.3 221L271.6 222L272.4 223L273.2 224L274.0 225L274.6 226L275.2 227L275.6 228L276.1 229L276.5 230L276.9 231L277.2 232L277.6 233L277.9 234L278.3 235L278.6 236L279.0 237L279.4 238L279.8 239L280.1 240L280.5 241L280.7 242L281.0 243L281.2 244L281.4 245L281.6 246L281.8 247L282.0 248L282.1 249L282.3 250L282.5 251L282.6 252L282.8 253L282.9 254L283.1 255L283.3 256L283.4 257L283.6 258L283.8 259L284.0 260L284.2 261L284.4 262L284.5 263L284.7 264L284.9 265L285.1 266L285.3 267L285.5 268L285.7 269L285.9 270L286.1 271L286.3 272L286.5 273L286.7 274L286.9 275L287.0 276L287.2 277L287.4 278L287.6 279L287.8 280L287.9 281L288.1 282L288.3 283L288.5 284L288.6 285L288.8 286L289.0 287L289.2 288L289.4 289L289.6 290L289.8 291L290.1 292L290.3 293L290.6 294L290.8 295L291.1 296L291.4 297L291.7 298L292.0 299L292.3 300L292.6 301L292.9 302L293.2 303L293.5 304L293.8 304L293.6 303L293.4 302L293.2 301L292.9 300L292.7 299L292.5 298L292.2 297L292.0 296L291.8 295L291.6 294L291.4 293L291.2 292L291.0 291L290.9 290L290.7 289L290.6 288L290.5 287L290.3 286L290.2 285L290.1 284L290.0 283L289.8 282L289.7 281L289.6 280L289.5 279L289.3 278L289.2 277L289.0 276L288.9 275L288.8 274L288.6 273L288.5 272L288.3 271L288.2 270L288.0 269L287.9 268L287.7 267L287.6 266L287.5 265L287.3 264L287.2 263L287.1 262L286.9 261L286.8 260L286.7 259L286.6 258L286.5 257L286.4 256L286.3 255L286.1 254L286.0 253L285.9 252L285.8 251L285.7 250L285.6 249L285.5 248L285.4 247L285.3 246L285.1 245L285.0 244L284.9 243L284.8 242L284.6 241L284.5 240L284.3 239L284.2 238L284.0 237L283.9 236L283.7 235L283.5 234L283.4 233L283.2 232L283.1 231L282.9 230L282.8 229L282.6 228L282.5 227L282.4 226L282.2 225L282.1 224L281.9 223L281.8 222L281.7 221L281.5 220L281.4 219L281.3 218L281.1 217L281.0 216L280.9 215L280.7 214L280.6 213L280.5 212L280.3 211L280.2 210L280.0 209L279.9 208L279.7 207L279.6 206L279.4 205L279.2 204L279.1 203L278.9 202L278.7 201L278.5 200L278.3 199L278.1 198L277.9 197L277.6 196L277.4 195L277.2 194L277.0 193L276.7 192L276.5 191L276.3 190L276.0 189L275.7 188L275.4 187L275.0 186L274.7 185L274.3 184L273.8 183L273.4 182L272.9 181L272.3 180Z"/>
<path fill="#00be9b" d="M271.3 182L271.3 183L271.3 184L271.3 185L271.3 186L271.3 187L271.3 188L271.3 189L271.3 190L271.3 191L271.3 192L271.3 193L271.3 194L271.3 195L271.3 196L271.3 197L271.3 198L271.3 199L271.3 200L271.3 201L271.3 202L271.3 203L271.3 204L271.3 205L271.3 206L271.3 207L271.3 208L271.3 209L271.3 210L271.3 211L271.3 212L271.3 213L271.3 214L271.3 215L271.3 216L271.3 217L271.6 218L272.3 219L272.8 220L273.4 221L274.0 222L274.6 223L275.2 224L275.8 225L276.3 226L276.7 227L277.1 228L277.5 229L277.8 230L278.1 231L278.4 232L278.8 233L279.1 234L279.4 235L279.7 236L280.1 237L280.4 238L280.7 239L281.1 240L281.3 241L281.6 242L281.8 243L282.1 244L282.2 245L282.4 246L282.6 247L282.8 248L283.0 249L283.1 250L283.3 251L283.4 252L283.6 253L283.8 254L284.0 255L284.2 256L284.3 257L284.5 258L284.7 259L284.9 260L285.2 261L285.4 262L285.7 262L285.6 261L285.6 260L285.5 259L285.4 258L285.4 257L285.3 256L285.3 255L285.2 254L285.1 253L285.0 252L285.0 251L284.9 250L284.8 249L284.7 248L284.6 247L284.5 246L284.4 245L284.3 244L284.1 243L284.0 242L283.9 241L283.7 240L283.6 239L283.4 238L283.3 237L283.1 236L283.0 235L282.8 234L282.6 233L282.5 232L282.4 231L282.2 230L282.1 229L281.9 228L281.8 227L281.7 226L281.6 225L281.4 224L281.3 223L281.2 222L281.0 221L280.9 220L280.7 219L280.6 218L280.4 217L280.3 216L280.1 215L280.0 214L279.8 213L279.7 212L279.6 211L279.4 210L279.2 209L279.1 208L278.9 207L278.8 206L278.6 205L278.4 204L278.2 203L278.1 202L277.9 201L277.7 200L277.5 199L277.3 198L277.1 197L276.8 196L276.6 195L276.4 194L276.1 193L275.9 192L275.7 191L275.4 190L275.1 189L274.8 188L274.4 187L274.1 186L273.7 185L273.2 184L272.6 183L271.6 182Z"/>
<path fill="#00c850" d="M271.3 185L271.3 186L271.3 187L271.3 188L271.3 189L271.3 190L271.3 191L271.3 192L271.3 193L271.3 194L271.3 195L271.3 196L271.3 197L271.3 198L271.3 199L271.3 200L271.3 201L271.3 202L271.3 203L271.3 204L271.3 205L271.3 206L271.3 207L271.3 208L271.3 209L271.3 210L271.3 211L271.3 212L271.3 213L271.3 214L271.3 215L272.2 216L273.0 217L273.7 218L274.4 219L274.8 220L275.3 221L275.8 222L276.3 223L276.8 224L277.3 225L277.6 226L278.0 227L278.3 228L278.6 229L278.8 230L279.1 231L279.4 232L279.7 233L280.0 234L280.3 235L280.6 236L280.9 237L281.2 238L281.5 239L281.8 240L282.1 241L282.3 242L282.6 243L282.8 244L283.0 245L283.2 246L283.4 246L283.4 245L283.3 244L283.3 243L283.2 242L283.1 241L283.0 240L282.8 239L282.7 238L282.5 237L282.4 236L282.2 235L282.1 234L281.9 233L281.8 232L281.7 231L281.5 230L281.4 229L281.3 228L281.2 227L281.1 226L281.0 225L280.8 224L280.7 223L280.6 222L280.4 221L280.3 220L280.1 219L280.0 218L279.8 217L279.7 216L279.5 215L279.4 214L279.2 213L279.1 212L278.9 211L278.8 210L278.6 209L278.4 208L278.3 207L278.1 206L277.9 205L277.8 204L277.6 203L277.4 202L277.3 201L277.1 200L276.9 199L276.7 198L276.4 197L276.2 196L276.0 195L275.7 194L275.5 193L275.2 192L275.0 191L274.7 190L274.4 189L274.0 188L273.6 187L273.1 186L272.6 185Z"/>
<path fill="#00c800" d="M271.3 187L271.3 188L271.3 189L271.3 190L271.3 191L271.3 192L271.3 193L271.3 194L271.3 195L271.3 196L271.3 197L271.3 198L271.3 199L271.3 200L271.3 201L271.3 202L271.3 203L271.3 204L271.3 205L271.3 206L271.3 207L271.3 208L271.3 209L271.3 210L271.3 211L271.3 212L271.3 213L271.9 214L273.1 215L274.0 216L274.8 217L275.5 218L276.1 219L276.5 220L277.0 221L277.4 222L277.8 223L278.2 224L278.5 225L278.8 226L279.1 227L279.3 228L279.6 229L279.8 230L280.1 231L280.3 232L280.6 233L280.9 233L280.9 232L280.8 231L280.7 230L280.7 229L280.6 228L280.5 227L280.4 226L280.3 225L280.2 224L280.1 223L280.0 222L279.8 221L279.7 220L279.5 219L279.4 218L279.2 217L279.1 216L278.9 215L278.8 214L278.6 213L278.5 212L278.4 211L278.2 210L278.0 209L277.9 208L277.7 207L277.5 206L277.4 205L277.2 204L277.0 203L276.9 202L276.7 201L276.5 200L276.3 199L276.1 198L275.9 197L275.6 196L275.4 195L275.1 194L274.9 193L274.6 192L274.4 191L274.1 190L273.8 189L273.3 188L272.7 187Z"/>
<path fill="#3cd200" d="M271.3 188L271.3 189L271.3 190L271.3 191L271.3 192L271.3 193L271.3 194L271.3 195L271.3 196L271.3 197L271.3 198L271.3 199L271.3 200L271.3 201L271.3 202L271.3 203L271.3 204L271.3 205L271.3 206L271.3 207L271.3 208L271.3 209L271.3 210L271.3 211L271.3 212L272.5 213L273.9 214L275.0 215L275.9 216L276.6 217L277.2 218L277.8 219L278.3 220L278.7 221L278.8 221L278.8 220L278.7 219L278.6 218L278.5 217L278.4 216L278.3 215L278.1 214L278.0 213L277.9 212L277.8 211L277.7 210L277.5 209L277.3 208L277.2 207L277.0 206L276.8 205L276.7 204L276.5 203L276.4 202L276.2 201L276.0 200L275.8 199L275.6 198L275.4 197L275.1 196L274.9 195L274.6 194L274.3 193L274.0 192L273.8 191L273.5 190L273.0 189L272.3 188Z"/>
<path fill="#c8eb00" d="M271.3 189L271.3 190L271.3 191L271.3 192L271.3 193L271.3 194L271.3 195L271.3 196L271.3 197L271.3 198L271.3 199L271.3 200L271.3 201L271.3 202L271.3 203L271.3 204L271.3 205L271.3 206L271.3 207L271.3 208L271.3 209L271.3 210L271.6 211L273.2 212L274.7 213L276.2 214L277.2 214L277.3 213L277.3 212L277.2 211L277.1 210L277.0 209L276.8 208L276.7 207L276.5 206L276.3 205L276.2 204L276.1 203L275.9 202L275.7 201L275.6 200L275.4 199L275.1 198L274.9 197L274.6 196L274.3 195L274.0 194L273.7 193L273.4 192L273.1 191L272.7 190L271.8 189Z"/>
<path fill="#ffbe00" d="M271.3 191L271.3 192L271.3 193L271.3 194L271.3 195L271.3 196L271.3 197L271.3 198L271.3 199L271.3 200L271.3 201L271.3 202L271.3 203L271.3 204L271.3 205L271.3 206L271.3 207L271.3 208L271.3 209L272.2 210L274.0 211L276.5 211L276.5 210L276.4 209L276.3 208L276.1 207L276.0 206L275.9 205L275.7 204L275.6 203L275.4 202L275.3 201L275.1 200L274.9 199L274.7 198L274.4 197L274.1 196L273.8 195L273.4 194L273.0 193L272.6 192L272.1 191Z"/>
<path fill="#ff6400" d="M271.3 194L271.3 195L271.3 196L271.3 197L271.3 198L271.3 199L271.3 200L271.3 201L271.3 202L271.3 203L271.3 204L271.3 205L271.3 206L271.3 207L271.4 208L273.1 209L275.6 209L275.6 208L275.5 207L275.4 206L275.3 205L275.2 204L275.1 203L275.0 202L274.8 201L274.7 200L274.4 199L274.2 198L273.9 197L273.6 196L273.2 195L272.7 194Z"/>
<path fill="#f00000" d="M271.3 196L271.3 197L271.3 198L271.3 199L271.3 200L271.3 201L271.3 202L271.3 203L271.3 204L271.3 205L271.3 206L272.5 207L274.7 207L274.8 206L274.7 205L274.7 204L274.6 203L274.5 202L274.3 201L274.2 200L273.9 199L273.7 198L273.3 197L272.9 196Z"/>
</g></g>
<rect x="270.15" y="62.00" width="1.15" height="265.95" fill="#000"/>
<rect x="270.15" y="326.80" width="62.45" height="1.15" fill="#000"/>
<rect x="271.30" y="241.81" width="2.3" height="1.1" fill="#000"/>
<rect x="271.30" y="156.77" width="2.3" height="1.1" fill="#000"/>
<rect x="271.30" y="71.73" width="2.3" height="1.1" fill="#000"/>
<rect x="283.03" y="321.80" width="1" height="5.20" fill="#000" opacity="0.9"/>
<rect x="295.26" y="321.80" width="1" height="5.20" fill="#000" opacity="0.9"/>
<rect x="307.49" y="321.80" width="1" height="5.20" fill="#000" opacity="0.9"/>
<rect x="319.72" y="321.80" width="1" height="5.20" fill="#000" opacity="0.9"/>
<rect x="331.50" y="317.00" width="1.1" height="10.00" fill="#000" opacity="0.9"/>
<clipPath id="c3"><rect x="337.90" y="62.00" width="61.50" height="265.80"/></clipPath>
<rect x="337.70" y="62.00" width="61.70" height="265.80" fill="#0000be"/>
<g clip-path="url(#c3)"><g filter="url(#bl)">
<path fill="#0041d7" d="M338.2 175L338.2 176L338.2 177L338.2 178L338.2 179L338.2 180L338.2 181L338.2 182L338.2 183L338.2 184L338.2 185L338.2 186L338.2 187L338.2 188L338.2 189L338.2 190L338.2 191L338.2 192L338.2 193L338.2 194L338.2 195L338.2 196L338.2 197L338.2 198L338.2 199L338.2 200L338.2 201L338.2 202L338.2 203L338.2 204L338.2 205L338.2 206L338.2 207L338.2 208L338.2 209L338.2 210L338.2 211L338.2 212L338.2 213L338.2 214L338.2 215L338.2 216L338.2 217L338.2 218L338.2 219L338.2 220L338.2 221L338.2 222L338.5 223L339.2 224L339.9 225L340.5 226L341.2 227L341.7 228L342.3 229L342.7 230L343.2 231L343.6 232L343.9 233L344.3 234L344.6 235L344.9 236L345.2 237L345.5 238L345.8 239L346.0 240L346.3 241L346.5 242L346.7 243L346.9 244L347.1 245L347.3 246L347.5 247L347.7 248L347.8 249L348.0 250L348.2 251L348.3 252L348.5 253L348.6 254L348.8 255L349.0 256L349.1 257L349.3 258L349.5 259L349.6 260L349.8 261L350.0 262L350.2 263L350.3 264L350.5 265L350.7 266L350.8 267L351.0 268L351.2 269L351.4 270L351.6 271L351.7 272L351.9 273L352.1 274L352.3 275L352.4 276L352.6 277L352.8 278L353.0 279L353.2 280L353.3 281L353.5 282L353.7 283L353.9 284L354.1 285L354.3 286L354.4 287L354.6 288L354.8 289L355.0 290L355.2 291L355.5 292L355.7 293L355.9 294L356.1 295L356.3 296L356.5 297L356.7 298L357.0 299L357.2 300L357.4 301L357.7 302L357.9 303L358.1 304L358.4 305L358.6 306L358.9 307L359.2 308L359.4 309L359.7 310L360.0 311L360.3 312L360.6 313L360.9 314L361.2 315L361.5 316L361.8 317L362.1 318L362.4 319L362.7 320L364.5 320L364.3 319L364.1 318L363.9 317L363.7 316L363.5 315L363.3 314L363.0 313L362.8 312L362.6 311L362.4 310L362.1 309L361.9 308L361.7 307L361.5 306L361.3 305L361.1 304L360.9 303L360.7 302L360.5 301L360.3 300L360.1 299L359.9 298L359.7 297L359.5 296L359.3 295L359.1 294L359.0 293L358.8 292L358.6 291L358.5 290L358.3 289L358.2 288L358.0 287L357.9 286L357.7 285L357.6 284L357.5 283L357.4 282L357.3 281L357.1 280L357.0 279L356.9 278L356.8 277L356.7 276L356.6 275L356.4 274L356.3 273L356.2 272L356.1 271L356.0 270L355.9 269L355.8 268L355.7 267L355.6 266L355.5 265L355.4 264L355.3 263L355.2 262L355.1 261L354.9 260L354.8 259L354.7 258L354.6 257L354.5 256L354.4 255L354.2 254L354.1 253L354.0 252L353.9 251L353.7 250L353.6 249L353.5 248L353.3 247L353.2 246L353.1 245L353.0 244L352.8 243L352.7 242L352.6 241L352.4 240L352.3 239L352.2 238L352.1 237L351.9 236L351.8 235L351.7 234L351.6 233L351.4 232L351.3 231L351.2 230L351.0 229L350.9 228L350.8 227L350.6 226L350.5 225L350.4 224L350.2 223L350.1 222L350.0 221L349.8 220L349.7 219L349.5 218L349.4 217L349.3 216L349.1 215L348.9 214L348.8 213L348.6 212L348.4 211L348.2 210L348.1 209L347.9 208L347.7 207L347.5 206L347.3 205L347.2 204L347.0 203L346.8 202L346.6 201L346.5 200L346.3 199L346.1 198L345.9 197L345.7 196L345.5 195L345.3 194L345.0 193L344.7 192L344.5 191L344.2 190L343.9 189L343.6 188L343.3 187L343.0 186L342.7 185L342.3 184L342.0 183L341.6 182L341.3 181L340.9 180L340.5 179L340.1 178L339.6 177L339.2 176L338.8 175Z"/>
<path fill="#0096f0" d="M338.2 180L338.2 181L338.2 182L338.2 183L338.2 184L338.2 185L338.2 186L338.2 187L338.2 188L338.2 189L338.2 190L338.2 191L338.2 192L338.2 193L338.2 194L338.2 195L338.2 196L338.2 197L338.2 198L338.2 199L338.2 200L338.2 201L338.2 202L338.2 203L338.2 204L338.2 205L338.2 206L338.2 207L338.2 208L338.2 209L338.2 210L338.2 211L338.2 212L338.2 213L338.2 214L338.2 215L338.2 216L338.2 217L338.9 218L339.5 219L340.0 220L340.5 221L341.1 222L341.6 223L342.1 224L342.6 225L343.1 226L343.6 227L344.1 228L344.5 229L344.8 230L345.2 231L345.5 232L345.8 233L346.1 234L346.4 235L346.7 236L346.9 237L347.2 238L347.4 239L347.7 240L347.9 241L348.1 242L348.3 243L348.5 244L348.7 245L348.9 246L349.1 247L349.2 248L349.4 249L349.6 250L349.7 251L349.9 252L350.0 253L350.2 254L350.3 255L350.5 256L350.6 257L350.8 258L350.9 259L351.1 260L351.3 261L351.4 262L351.6 263L351.8 264L351.9 265L352.1 266L352.3 267L352.5 268L352.6 269L352.8 270L353.0 271L353.1 272L353.3 273L353.5 274L353.7 275L353.8 276L354.0 277L354.2 278L354.4 279L354.5 280L354.7 281L354.9 282L355.0 283L355.2 284L355.4 285L355.6 286L355.8 287L355.9 288L356.1 289L356.3 290L356.5 291L356.7 292L356.9 293L357.2 294L357.4 295L357.6 296L357.8 297L358.0 298L358.3 299L358.5 300L358.8 301L359.0 302L359.3 303L359.5 304L359.7 304L359.6 303L359.4 302L359.3 301L359.1 300L358.9 299L358.7 298L358.5 297L358.4 296L358.2 295L358.0 294L357.8 293L357.7 292L357.5 291L357.4 290L357.2 289L357.1 288L356.9 287L356.8 286L356.6 285L356.5 284L356.4 283L356.3 282L356.1 281L356.0 280L355.9 279L355.8 278L355.6 277L355.5 276L355.4 275L355.3 274L355.1 273L355.0 272L354.9 271L354.8 270L354.7 269L354.5 268L354.4 267L354.3 266L354.2 265L354.1 264L354.0 263L353.9 262L353.7 261L353.6 260L353.5 259L353.4 258L353.3 257L353.2 256L353.1 255L353.0 254L352.8 253L352.7 252L352.6 251L352.5 250L352.4 249L352.3 248L352.2 247L352.1 246L352.0 245L351.9 244L351.8 243L351.7 242L351.5 241L351.4 240L351.3 239L351.2 238L351.0 237L350.9 236L350.8 235L350.6 234L350.5 233L350.4 232L350.3 231L350.1 230L350.0 229L349.9 228L349.8 227L349.6 226L349.5 225L349.4 224L349.2 223L349.1 222L348.9 221L348.8 220L348.6 219L348.4 218L348.3 217L348.1 216L347.9 215L347.7 214L347.5 213L347.3 212L347.1 211L346.9 210L346.7 209L346.5 208L346.3 207L346.2 206L346.0 205L345.8 204L345.7 203L345.5 202L345.3 201L345.1 200L345.0 199L344.8 198L344.6 197L344.4 196L344.2 195L344.0 194L343.8 193L343.5 192L343.2 191L343.0 190L342.7 189L342.4 188L342.1 187L341.7 186L341.4 185L341.0 184L340.6 183L340.2 182L339.7 181L339.2 180Z"/>
<path fill="#00be9b" d="M338.2 182L338.2 183L338.2 184L338.2 185L338.2 186L338.2 187L338.2 188L338.2 189L338.2 190L338.2 191L338.2 192L338.2 193L338.2 194L338.2 195L338.2 196L338.2 197L338.2 198L338.2 199L338.2 200L338.2 201L338.2 202L338.2 203L338.2 204L338.2 205L338.2 206L338.2 207L338.2 208L338.2 209L338.2 210L338.2 211L338.2 212L338.2 213L338.5 214L339.4 215L340.2 216L340.8 217L341.4 218L341.9 219L342.3 220L342.8 221L343.2 222L343.6 223L344.0 224L344.4 225L344.8 226L345.2 227L345.6 228L345.9 229L346.2 230L346.5 231L346.8 232L347.1 233L347.3 234L347.6 235L347.8 236L348.1 237L348.3 238L348.6 239L348.8 240L349.0 241L349.2 242L349.4 243L349.6 244L349.8 245L350.0 246L350.2 247L350.4 248L350.5 249L350.7 250L350.9 251L351.1 252L351.1 252L351.2 251L351.2 250L351.2 249L351.1 248L351.1 247L351.0 246L351.0 245L350.9 244L350.8 243L350.7 242L350.6 241L350.5 240L350.4 239L350.3 238L350.1 237L350.0 236L349.9 235L349.8 234L349.7 233L349.5 232L349.4 231L349.3 230L349.2 229L349.1 228L348.9 227L348.8 226L348.7 225L348.6 224L348.4 223L348.3 222L348.1 221L348.0 220L347.8 219L347.6 218L347.4 217L347.2 216L347.1 215L346.8 214L346.6 213L346.4 212L346.2 211L346.0 210L345.8 209L345.6 208L345.4 207L345.2 206L345.1 205L344.9 204L344.8 203L344.6 202L344.4 201L344.2 200L344.1 199L343.9 198L343.7 197L343.5 196L343.4 195L343.1 194L342.9 193L342.7 192L342.4 191L342.1 190L341.8 189L341.5 188L341.2 187L340.8 186L340.4 185L339.9 184L339.4 183L338.4 182Z"/>
<path fill="#00c850" d="M338.2 185L338.2 186L338.2 187L338.2 188L338.2 189L338.2 190L338.2 191L338.2 192L338.2 193L338.2 194L338.2 195L338.2 196L338.2 197L338.2 198L338.2 199L338.2 200L338.2 201L338.2 202L338.2 203L338.2 204L338.2 205L338.2 206L338.2 207L338.2 208L338.2 209L338.2 210L338.5 211L339.3 212L340.1 213L340.9 214L341.7 215L342.4 216L342.9 217L343.4 218L343.8 219L344.2 220L344.5 221L344.9 222L345.2 223L345.6 224L345.9 225L346.2 226L346.5 227L346.8 228L347.1 229L347.4 230L347.6 231L347.9 232L348.2 233L348.4 233L348.4 232L348.4 231L348.3 230L348.3 229L348.2 228L348.1 227L348.0 226L347.9 225L347.8 224L347.6 223L347.5 222L347.3 221L347.2 220L347.0 219L346.8 218L346.6 217L346.4 216L346.2 215L346.0 214L345.8 213L345.6 212L345.3 211L345.1 210L344.9 209L344.7 208L344.6 207L344.4 206L344.3 205L344.1 204L344.0 203L343.8 202L343.7 201L343.5 200L343.3 199L343.2 198L343.0 197L342.8 196L342.7 195L342.4 194L342.2 193L342.0 192L341.7 191L341.4 190L341.1 189L340.7 188L340.3 187L339.9 186L339.3 185Z"/>
<path fill="#00c800" d="M338.2 187L338.2 188L338.2 189L338.2 190L338.2 191L338.2 192L338.2 193L338.2 194L338.2 195L338.2 196L338.2 197L338.2 198L338.2 199L338.2 200L338.2 201L338.2 202L338.2 203L338.2 204L338.2 205L338.2 206L338.2 207L338.4 208L339.3 209L340.2 210L341.0 211L341.8 212L342.6 213L343.3 214L343.9 215L344.5 216L344.9 217L345.3 218L345.6 218L345.5 217L345.4 216L345.2 215L345.0 214L344.8 213L344.6 212L344.4 211L344.2 210L344.0 209L343.9 208L343.7 207L343.7 206L343.6 205L343.4 204L343.3 203L343.2 202L343.0 201L342.9 200L342.7 199L342.5 198L342.4 197L342.2 196L342.0 195L341.8 194L341.6 193L341.3 192L341.0 191L340.7 190L340.3 189L339.9 188L339.4 187Z"/>
<path fill="#3cd200" d="M338.2 188L338.2 189L338.2 190L338.2 191L338.2 192L338.2 193L338.2 194L338.2 195L338.2 196L338.2 197L338.2 198L338.2 199L338.2 200L338.2 201L338.2 202L338.2 203L338.2 204L338.2 205L338.3 206L339.6 207L341.0 208L342.7 208L342.8 207L342.8 206L342.8 205L342.7 204L342.7 203L342.5 202L342.4 201L342.2 200L342.1 199L342.0 198L341.8 197L341.6 196L341.4 195L341.2 194L341.0 193L340.7 192L340.3 191L340.0 190L339.5 189L338.7 188Z"/>
<path fill="#c8eb00" d="M338.2 190L338.2 191L338.2 192L338.2 193L338.2 194L338.2 195L338.2 196L338.2 197L338.2 198L338.2 199L338.2 200L338.2 201L338.2 202L338.2 203L338.2 204L339.3 205L341.8 205L341.9 204L341.9 203L341.9 202L341.8 201L341.6 200L341.5 199L341.4 198L341.2 197L341.0 196L340.8 195L340.6 194L340.3 193L340.0 192L339.5 191L338.9 190Z"/>
<path fill="#ffbe00" d="M338.2 192L338.2 193L338.2 194L338.2 195L338.2 196L338.2 197L338.2 198L338.2 199L338.2 200L338.2 201L338.2 202L339.1 203L340.9 203L341.1 202L341.0 201L340.9 200L340.8 199L340.7 198L340.6 197L340.4 196L340.2 195L339.9 194L339.6 193L338.9 192Z"/>
<path fill="#ff6400" d="M338.2 195L338.2 196L338.2 197L338.2 198L338.2 199L338.4 200L339.9 200L340.0 199L339.9 198L339.7 197L339.5 196L339.2 195Z"/>
</g></g>
<rect x="337.05" y="62.00" width="1.15" height="265.95" fill="#000"/>
<rect x="337.05" y="326.80" width="62.35" height="1.15" fill="#000"/>
<rect x="338.20" y="241.81" width="2.3" height="1.1" fill="#000"/>
<rect x="338.20" y="156.77" width="2.3" height="1.1" fill="#000"/>
<rect x="338.20" y="71.73" width="2.3" height="1.1" fill="#000"/>
<rect x="349.91" y="321.80" width="1" height="5.20" fill="#000" opacity="0.9"/>
<rect x="362.12" y="321.80" width="1" height="5.20" fill="#000" opacity="0.9"/>
<rect x="374.33" y="321.80" width="1" height="5.20" fill="#000" opacity="0.9"/>
<rect x="386.54" y="321.80" width="1" height="5.20" fill="#000" opacity="0.9"/>
<rect x="398.30" y="317.00" width="1.1" height="10.00" fill="#000" opacity="0.9"/>
<clipPath id="c4"><rect x="404.20" y="62.00" width="61.80" height="265.80"/></clipPath>
<rect x="404.00" y="62.00" width="62.00" height="265.80" fill="#0000be"/>
<g clip-path="url(#c4)"><g filter="url(#bl)">
<path fill="#0041d7" d="M404.5 174L404.5 175L404.5 176L404.5 177L404.5 178L404.5 179L404.5 180L404.5 181L404.5 182L404.5 183L404.5 184L404.5 185L404.5 186L404.5 187L404.5 188L404.5 189L404.5 190L404.5 191L404.5 192L404.5 193L404.5 194L404.5 195L404.5 196L404.5 197L404.5 198L404.5 199L404.5 200L404.5 201L404.5 202L404.5 203L404.5 204L404.5 205L404.5 206L404.5 207L404.5 208L404.5 209L404.5 210L404.5 211L404.5 212L404.5 213L404.5 214L404.5 215L404.5 216L404.5 217L404.5 218L405.3 219L406.1 220L406.8 221L407.5 222L408.0 223L408.4 224L408.8 225L409.2 226L409.6 227L409.9 228L410.2 229L410.5 230L410.8 231L411.1 232L411.3 233L411.6 234L411.8 235L412.0 236L412.3 237L412.5 238L412.7 239L412.9 240L413.1 241L413.3 242L413.5 243L413.6 244L413.8 245L414.0 246L414.1 247L414.3 248L414.5 249L414.6 250L414.8 251L414.9 252L415.1 253L415.2 254L415.4 255L415.5 256L415.6 257L415.8 258L415.9 259L416.0 260L416.2 261L416.3 262L416.4 263L416.5 264L416.6 265L416.8 266L416.9 267L417.0 268L417.1 269L417.2 270L417.4 271L417.5 272L417.6 273L417.8 274L417.9 275L418.1 276L418.3 277L418.5 278L418.6 279L418.8 280L419.0 281L419.3 282L419.5 283L419.7 284L419.9 285L420.2 286L420.4 287L420.6 288L420.9 289L421.1 290L421.4 291L421.6 292L421.9 293L422.1 294L422.4 295L422.6 296L422.9 297L423.1 298L423.4 299L423.6 300L423.9 301L424.2 302L424.4 303L424.7 304L425.0 305L425.3 306L425.6 307L425.9 308L426.2 309L426.5 310L426.9 311L427.2 312L427.6 313L428.0 314L428.4 315L428.8 316L429.2 317L429.7 318L430.1 319L432.1 319L431.9 318L431.6 317L431.4 316L431.1 315L430.8 314L430.5 313L430.2 312L429.9 311L429.7 310L429.4 309L429.2 308L429.0 307L428.7 306L428.5 305L428.2 304L428.0 303L427.8 302L427.6 301L427.3 300L427.1 299L426.9 298L426.7 297L426.5 296L426.3 295L426.1 294L426.0 293L425.8 292L425.6 291L425.5 290L425.3 289L425.1 288L425.0 287L424.8 286L424.7 285L424.6 284L424.4 283L424.3 282L424.1 281L424.0 280L423.9 279L423.8 278L423.6 277L423.5 276L423.4 275L423.3 274L423.1 273L423.0 272L422.9 271L422.8 270L422.7 269L422.6 268L422.5 267L422.4 266L422.3 265L422.2 264L422.1 263L422.0 262L421.9 261L421.8 260L421.7 259L421.5 258L421.4 257L421.3 256L421.2 255L421.1 254L420.9 253L420.8 252L420.7 251L420.6 250L420.4 249L420.3 248L420.2 247L420.0 246L419.9 245L419.8 244L419.7 243L419.5 242L419.4 241L419.3 240L419.2 239L419.1 238L419.0 237L418.9 236L418.8 235L418.7 234L418.6 233L418.5 232L418.3 231L418.2 230L418.1 229L418.0 228L417.8 227L417.7 226L417.5 225L417.3 224L417.2 223L417.0 222L416.9 221L416.7 220L416.6 219L416.4 218L416.3 217L416.1 216L416.0 215L415.8 214L415.7 213L415.6 212L415.4 211L415.3 210L415.1 209L414.9 208L414.8 207L414.6 206L414.5 205L414.3 204L414.1 203L414.0 202L413.8 201L413.6 200L413.4 199L413.2 198L413.1 197L412.9 196L412.7 195L412.5 194L412.2 193L412.0 192L411.8 191L411.6 190L411.3 189L411.1 188L410.8 187L410.6 186L410.3 185L410.0 184L409.6 183L409.3 182L408.9 181L408.5 180L408.1 179L407.6 178L407.1 177L406.5 176L405.9 175L405.3 174Z"/>
<path fill="#0096f0" d="M404.5 177L404.5 178L404.5 179L404.5 180L404.5 181L404.5 182L404.5 183L404.5 184L404.5 185L404.5 186L404.5 187L404.5 188L404.5 189L404.5 190L404.5 191L404.5 192L404.5 193L404.5 194L404.5 195L404.5 196L404.5 197L404.5 198L404.5 199L404.5 200L404.5 201L404.5 202L404.5 203L404.5 204L404.5 205L404.5 206L404.5 207L404.5 208L404.5 209L404.5 210L404.5 211L404.5 212L404.5 213L404.9 214L405.4 215L405.9 216L406.5 217L407.1 218L407.8 219L408.4 220L408.9 221L409.5 222L409.9 223L410.3 224L410.6 225L410.9 226L411.2 227L411.5 228L411.8 229L412.0 230L412.3 231L412.5 232L412.7 233L412.9 234L413.1 235L413.3 236L413.5 237L413.7 238L413.9 239L414.0 240L414.2 241L414.4 242L414.6 243L414.7 244L414.9 245L415.0 246L415.2 247L415.3 248L415.5 249L415.7 250L415.8 251L415.9 252L416.1 253L416.2 254L416.4 255L416.5 256L416.7 257L416.8 258L416.9 259L417.0 260L417.2 261L417.3 262L417.4 263L417.5 264L417.6 265L417.7 266L417.8 267L418.0 268L418.1 269L418.2 270L418.3 271L418.5 272L418.6 273L418.8 274L419.0 275L419.1 276L419.3 277L419.5 278L419.7 279L419.9 280L420.2 281L420.4 282L420.6 283L420.9 284L421.2 285L421.5 286L421.8 287L422.0 288L422.3 289L422.6 290L422.8 291L423.1 292L423.3 293L423.6 294L423.8 295L424.1 296L424.3 297L424.6 298L424.9 299L425.1 300L425.4 301L425.7 302L426.0 303L426.3 304L426.6 305L426.9 306L427.2 307L427.6 308L428.0 309L428.2 309L428.0 308L427.8 307L427.6 306L427.4 305L427.2 304L426.9 303L426.7 302L426.5 301L426.3 300L426.0 299L425.8 298L425.6 297L425.4 296L425.2 295L425.0 294L424.9 293L424.7 292L424.6 291L424.4 290L424.3 289L424.2 288L424.1 287L423.9 286L423.9 285L423.8 284L423.7 283L423.6 282L423.4 281L423.3 280L423.2 279L423.1 278L423.0 277L422.9 276L422.8 275L422.6 274L422.5 273L422.4 272L422.3 271L422.2 270L422.1 269L422.0 268L421.9 267L421.8 266L421.6 265L421.5 264L421.4 263L421.3 262L421.2 261L421.1 260L420.9 259L420.8 258L420.7 257L420.6 256L420.5 255L420.3 254L420.2 253L420.1 252L419.9 251L419.8 250L419.7 249L419.5 248L419.4 247L419.3 246L419.2 245L419.0 244L418.9 243L418.8 242L418.7 241L418.5 240L418.4 239L418.3 238L418.2 237L418.1 236L418.0 235L417.9 234L417.8 233L417.7 232L417.6 231L417.5 230L417.4 229L417.2 228L417.1 227L416.9 226L416.8 225L416.6 224L416.4 223L416.3 222L416.1 221L416.0 220L415.8 219L415.7 218L415.5 217L415.4 216L415.2 215L415.1 214L414.9 213L414.8 212L414.6 211L414.5 210L414.3 209L414.1 208L414.0 207L413.8 206L413.6 205L413.4 204L413.3 203L413.1 202L412.8 201L412.6 200L412.4 199L412.2 198L412.0 197L411.7 196L411.5 195L411.3 194L411.0 193L410.8 192L410.6 191L410.3 190L410.1 189L409.8 188L409.6 187L409.3 186L409.0 185L408.7 184L408.3 183L407.9 182L407.5 181L407.1 180L406.6 179L406.1 178L405.4 177Z"/>
<path fill="#00be9b" d="M404.5 179L404.5 180L404.5 181L404.5 182L404.5 183L404.5 184L404.5 185L404.5 186L404.5 187L404.5 188L404.5 189L404.5 190L404.5 191L404.5 192L404.5 193L404.5 194L404.5 195L404.5 196L404.5 197L404.5 198L404.5 199L404.5 200L404.5 201L404.5 202L404.5 203L404.5 204L404.5 205L404.5 206L404.5 207L404.5 208L404.5 209L405.0 210L405.5 211L406.0 212L406.4 213L406.9 214L407.3 215L407.8 216L408.3 217L408.8 218L409.3 219L409.8 220L410.3 221L410.7 222L411.1 223L411.4 224L411.8 225L412.1 226L412.3 227L412.6 228L412.8 229L413.0 230L413.2 231L413.4 232L413.6 233L413.8 234L414.0 235L414.2 236L414.3 237L414.5 238L414.6 239L414.8 240L414.9 241L415.1 242L415.2 243L415.4 244L415.6 245L415.7 246L415.9 247L416.0 248L416.2 249L416.3 250L416.5 251L416.6 252L416.8 253L416.9 254L417.0 255L417.2 256L417.3 257L417.4 258L417.6 259L417.7 260L417.8 261L417.9 262L418.0 263L418.1 264L418.2 265L418.3 266L418.5 267L418.6 268L418.7 269L418.8 270L419.0 271L419.1 272L419.3 273L419.4 274L419.6 275L419.8 276L420.0 277L420.2 278L420.4 279L420.7 280L420.9 281L421.2 282L421.4 283L421.7 284L422.1 285L422.4 286L423.0 286L423.1 285L423.1 284L423.0 283L423.0 282L422.9 281L422.8 280L422.7 279L422.6 278L422.5 277L422.4 276L422.3 275L422.2 274L422.1 273L422.0 272L421.9 271L421.7 270L421.6 269L421.5 268L421.4 267L421.3 266L421.2 265L421.0 264L420.9 263L420.8 262L420.7 261L420.6 260L420.4 259L420.3 258L420.2 257L420.0 256L419.9 255L419.8 254L419.7 253L419.5 252L419.4 251L419.3 250L419.1 249L419.0 248L418.9 247L418.7 246L418.6 245L418.5 244L418.3 243L418.2 242L418.1 241L418.0 240L417.9 239L417.8 238L417.6 237L417.6 236L417.5 235L417.4 234L417.3 233L417.2 232L417.1 231L416.9 230L416.8 229L416.7 228L416.5 227L416.4 226L416.2 225L416.1 224L415.9 223L415.7 222L415.6 221L415.4 220L415.3 219L415.1 218L415.0 217L414.8 216L414.7 215L414.5 214L414.4 213L414.2 212L414.0 211L413.9 210L413.7 209L413.6 208L413.4 207L413.2 206L413.1 205L412.9 204L412.7 203L412.4 202L412.2 201L412.0 200L411.7 199L411.5 198L411.2 197L410.9 196L410.7 195L410.4 194L410.2 193L409.9 192L409.7 191L409.5 190L409.2 189L408.9 188L408.7 187L408.4 186L408.1 185L407.7 184L407.3 183L406.9 182L406.4 181L405.8 180L404.7 179Z"/>
<path fill="#00c850" d="M404.5 182L404.5 183L404.5 184L404.5 185L404.5 186L404.5 187L404.5 188L404.5 189L404.5 190L404.5 191L404.5 192L404.5 193L404.5 194L404.5 195L404.5 196L404.5 197L404.5 198L404.5 199L404.5 200L404.5 201L404.5 202L404.5 203L404.5 204L404.5 205L404.5 206L404.9 207L405.5 208L406.1 209L406.6 210L407.1 211L407.5 212L407.9 213L408.3 214L408.7 215L409.2 216L409.6 217L410.0 218L410.5 219L410.9 220L411.3 221L411.7 222L412.0 223L412.3 224L412.6 225L412.9 226L413.1 227L413.4 228L413.6 229L413.8 230L414.0 231L414.2 232L414.3 233L414.5 234L414.6 235L414.8 236L414.9 237L415.1 238L415.2 239L415.4 240L415.5 241L415.6 242L415.8 243L415.9 244L416.1 245L416.2 246L416.4 247L416.5 248L416.7 249L416.8 250L417.0 251L417.1 252L417.3 253L417.4 254L417.5 255L417.7 256L417.8 257L417.9 258L418.1 259L418.2 260L418.3 261L418.4 262L418.5 263L418.6 264L418.7 265L418.8 266L418.9 267L419.0 268L419.2 269L419.3 270L419.4 271L419.6 272L419.8 273L419.9 274L420.1 275L420.3 276L420.5 277L420.8 278L421.0 279L421.2 280L421.5 281L421.8 282L422.3 282L422.3 281L422.2 280L422.2 279L422.1 278L422.0 277L422.0 276L421.9 275L421.8 274L421.7 273L421.6 272L421.5 271L421.4 270L421.2 269L421.1 268L421.0 267L420.9 266L420.8 265L420.6 264L420.5 263L420.4 262L420.2 261L420.1 260L420.0 259L419.8 258L419.7 257L419.6 256L419.4 255L419.3 254L419.2 253L419.0 252L418.9 251L418.7 250L418.6 249L418.5 248L418.3 247L418.2 246L418.1 245L417.9 244L417.8 243L417.7 242L417.6 241L417.5 240L417.3 239L417.2 238L417.1 237L417.1 236L417.0 235L416.9 234L416.8 233L416.7 232L416.6 231L416.5 230L416.3 229L416.2 228L416.1 227L415.9 226L415.8 225L415.6 224L415.5 223L415.3 222L415.1 221L415.0 220L414.8 219L414.7 218L414.5 217L414.4 216L414.2 215L414.0 214L413.9 213L413.7 212L413.6 211L413.4 210L413.3 209L413.1 208L412.9 207L412.8 206L412.6 205L412.4 204L412.2 203L411.9 202L411.7 201L411.4 200L411.1 199L410.9 198L410.6 197L410.3 196L410.0 195L409.8 194L409.5 193L409.2 192L409.0 191L408.7 190L408.5 189L408.2 188L407.9 187L407.6 186L407.2 185L406.8 184L406.4 183L405.7 182Z"/>
<path fill="#00c800" d="M404.5 184L404.5 185L404.5 186L404.5 187L404.5 188L404.5 189L404.5 190L404.5 191L404.5 192L404.5 193L404.5 194L404.5 195L404.5 196L404.5 197L404.5 198L404.5 199L404.5 200L404.5 201L404.5 202L404.5 203L404.5 204L405.1 205L405.8 206L406.4 207L406.9 208L407.4 209L407.9 210L408.4 211L408.8 212L409.2 213L409.6 214L409.9 215L410.3 216L410.7 217L411.1 218L411.5 219L411.8 220L412.2 221L412.5 222L412.8 223L413.1 224L413.4 225L413.6 226L413.9 227L414.1 228L414.3 229L414.5 230L414.6 231L414.8 232L414.9 233L415.1 234L415.2 235L415.3 236L415.5 237L415.6 238L415.7 239L415.9 240L416.0 241L416.1 242L416.3 243L416.4 244L416.6 245L416.7 246L416.8 247L417.0 248L417.1 249L417.3 250L417.4 251L417.6 252L417.7 253L417.9 254L418.0 255L418.1 256L418.3 257L418.4 258L418.5 259L418.6 260L418.7 261L418.8 262L418.9 263L419.0 264L419.1 265L419.2 266L419.3 267L419.4 268L419.6 269L419.7 270L419.8 271L420.0 272L420.2 273L420.4 274L420.6 275L420.8 276L421.0 277L421.5 277L421.4 276L421.4 275L421.3 274L421.3 273L421.2 272L421.1 271L421.0 270L420.9 269L420.7 268L420.6 267L420.5 266L420.3 265L420.2 264L420.0 263L419.9 262L419.7 261L419.6 260L419.4 259L419.3 258L419.1 257L419.0 256L418.9 255L418.7 254L418.6 253L418.4 252L418.3 251L418.2 250L418.0 249L417.9 248L417.8 247L417.6 246L417.5 245L417.4 244L417.2 243L417.1 242L417.0 241L416.9 240L416.8 239L416.7 238L416.6 237L416.5 236L416.4 235L416.3 234L416.3 233L416.2 232L416.1 231L416.0 230L415.9 229L415.7 228L415.6 227L415.5 226L415.3 225L415.2 224L415.0 223L414.8 222L414.7 221L414.5 220L414.4 219L414.2 218L414.1 217L413.9 216L413.8 215L413.6 214L413.5 213L413.3 212L413.2 211L413.0 210L412.8 209L412.7 208L412.5 207L412.3 206L412.1 205L411.9 204L411.7 203L411.5 202L411.2 201L410.9 200L410.6 199L410.3 198L410.0 197L409.7 196L409.4 195L409.2 194L408.9 193L408.6 192L408.3 191L408.1 190L407.8 189L407.5 188L407.2 187L406.8 186L406.4 185L405.8 184Z"/>
<path fill="#3cd200" d="M404.7 185L404.5 186L404.5 187L404.5 188L404.5 189L404.5 190L404.5 191L404.5 192L404.5 193L404.5 194L404.5 195L404.5 196L404.5 197L404.5 198L404.5 199L404.5 200L404.5 201L404.5 202L405.0 203L405.8 204L406.5 205L407.1 206L407.7 207L408.2 208L408.7 209L409.1 210L409.6 211L410.0 212L410.3 213L410.7 214L411.0 215L411.4 216L411.7 217L412.1 218L412.4 219L412.7 220L413.0 221L413.3 222L413.6 223L413.8 224L414.1 225L414.3 226L414.6 227L414.8 228L415.0 229L415.0 229L415.0 228L414.9 227L414.8 226L414.7 225L414.6 224L414.5 223L414.3 222L414.2 221L414.0 220L413.9 219L413.7 218L413.6 217L413.5 216L413.3 215L413.2 214L413.0 213L412.9 212L412.7 211L412.6 210L412.4 209L412.3 208L412.1 207L411.9 206L411.7 205L411.5 204L411.3 203L411.0 202L410.7 201L410.4 200L410.1 199L409.8 198L409.5 197L409.2 196L408.9 195L408.6 194L408.3 193L408.0 192L407.7 191L407.4 190L407.1 189L406.8 188L406.4 187L405.9 186L404.9 185Z"/>
<path fill="#3cd200" d="M419.5 265L419.6 266L419.7 267L419.8 268L420.0 269L420.1 270L420.3 271L420.5 271L420.4 270L420.3 269L420.2 268L420.0 267L419.8 266L419.6 265Z"/>
<path fill="#c8eb00" d="M404.5 188L404.5 189L404.5 190L404.5 191L404.5 192L404.5 193L404.5 194L404.5 195L404.5 196L404.5 197L404.5 198L404.5 199L404.5 200L405.1 201L405.9 202L406.7 203L407.4 204L408.0 205L408.5 206L409.0 207L409.5 208L409.9 209L410.3 210L410.7 211L411.1 212L411.4 213L411.8 214L412.1 215L412.5 216L412.7 216L412.7 215L412.6 214L412.5 213L412.3 212L412.2 211L412.1 210L411.9 209L411.8 208L411.6 207L411.4 206L411.3 205L411.0 204L410.8 203L410.5 202L410.2 201L409.9 200L409.6 199L409.2 198L408.9 197L408.6 196L408.3 195L407.9 194L407.6 193L407.3 192L407.0 191L406.7 190L406.3 189L405.8 188Z"/>
<path fill="#ffbe00" d="M404.7 191L404.5 192L404.5 193L404.5 194L404.5 195L404.5 196L404.7 197L405.2 198L405.9 199L406.7 200L407.5 201L408.2 202L408.9 203L409.5 204L410.0 205L410.5 205L410.3 204L410.1 203L409.8 202L409.5 201L409.2 200L408.9 199L408.6 198L408.2 197L407.9 196L407.5 195L407.1 194L406.8 193L406.4 192L405.9 191Z"/>
</g></g>
<rect x="403.35" y="62.00" width="1.15" height="265.95" fill="#000"/>
<rect x="403.35" y="326.80" width="62.65" height="1.15" fill="#000"/>
<rect x="404.50" y="241.81" width="2.3" height="1.1" fill="#000"/>
<rect x="404.50" y="156.77" width="2.3" height="1.1" fill="#000"/>
<rect x="404.50" y="71.73" width="2.3" height="1.1" fill="#000"/>
<rect x="416.27" y="321.80" width="1" height="5.20" fill="#000" opacity="0.9"/>
<rect x="428.54" y="321.80" width="1" height="5.20" fill="#000" opacity="0.9"/>
<rect x="440.81" y="321.80" width="1" height="5.20" fill="#000" opacity="0.9"/>
<rect x="453.08" y="321.80" width="1" height="5.20" fill="#000" opacity="0.9"/>
<rect x="464.90" y="317.00" width="1.1" height="10.00" fill="#000" opacity="0.9"/>
<clipPath id="c5"><rect x="471.00" y="62.00" width="61.80" height="265.80"/></clipPath>
<rect x="470.80" y="62.00" width="62.00" height="265.80" fill="#0000be"/>
<g clip-path="url(#c5)"><g filter="url(#bl)">
<path fill="#0041d7" d="M471.3 166L471.3 167L471.3 168L471.3 169L471.3 170L471.3 171L471.3 172L471.3 173L471.3 174L471.3 175L471.3 176L471.3 177L471.3 178L471.3 179L471.3 180L471.3 181L471.3 182L471.3 183L471.3 184L471.3 185L471.3 186L471.3 187L471.3 188L471.3 189L471.3 190L471.3 191L471.3 192L471.3 193L471.3 194L471.3 195L471.3 196L471.3 197L471.3 198L471.3 199L471.3 200L471.3 201L471.3 202L471.3 203L471.3 204L471.3 205L471.3 206L471.3 207L471.3 208L471.3 209L471.3 210L471.3 211L471.3 212L471.3 213L471.3 214L471.3 215L471.3 216L471.5 217L472.0 218L472.6 219L473.1 220L473.6 221L474.1 222L474.5 223L474.9 224L475.3 225L475.7 226L476.2 227L476.6 228L477.1 229L477.5 230L477.9 231L478.2 232L478.6 233L478.8 234L479.1 235L479.3 236L479.5 237L479.7 238L479.9 239L480.1 240L480.3 241L480.5 242L480.6 243L480.8 244L481.0 245L481.1 246L481.3 247L481.5 248L481.7 249L481.8 250L482.0 251L482.2 252L482.4 253L482.5 254L482.7 255L482.9 256L483.1 257L483.2 258L483.4 259L483.6 260L483.7 261L483.9 262L484.1 263L484.2 264L484.4 265L484.6 266L484.7 267L484.9 268L485.1 269L485.2 270L485.4 271L485.5 272L485.7 273L485.9 274L486.0 275L486.2 276L486.3 277L486.5 278L486.6 279L486.8 280L487.0 281L487.1 282L487.3 283L487.5 284L487.7 285L487.8 286L488.0 287L488.2 288L488.4 289L488.6 290L488.8 291L489.0 292L489.2 293L489.4 294L489.6 295L489.8 296L490.0 297L490.2 298L490.5 299L490.7 300L490.9 301L491.1 302L491.4 303L491.6 304L491.9 305L492.1 306L492.4 307L492.6 308L492.9 309L493.2 310L493.5 311L493.7 312L494.0 313L494.3 314L494.6 315L494.9 316L495.2 317L495.5 318L495.8 319L496.1 320L498.0 320L497.8 319L497.6 318L497.5 317L497.3 316L497.1 315L496.9 314L496.7 313L496.5 312L496.3 311L496.1 310L495.8 309L495.6 308L495.5 307L495.3 306L495.1 305L494.9 304L494.7 303L494.6 302L494.4 301L494.2 300L494.1 299L493.9 298L493.8 297L493.6 296L493.5 295L493.3 294L493.2 293L493.1 292L492.9 291L492.8 290L492.6 289L492.5 288L492.3 287L492.2 286L492.0 285L491.9 284L491.7 283L491.6 282L491.4 281L491.3 280L491.1 279L491.0 278L490.8 277L490.6 276L490.5 275L490.3 274L490.2 273L490.0 272L489.9 271L489.8 270L489.6 269L489.5 268L489.4 267L489.3 266L489.1 265L489.0 264L488.9 263L488.8 262L488.7 261L488.6 260L488.5 259L488.4 258L488.3 257L488.2 256L488.1 255L488.0 254L487.9 253L487.8 252L487.6 251L487.5 250L487.4 249L487.3 248L487.2 247L487.1 246L487.0 245L486.9 244L486.8 243L486.7 242L486.5 241L486.4 240L486.3 239L486.2 238L486.1 237L486.0 236L485.9 235L485.7 234L485.6 233L485.5 232L485.4 231L485.2 230L485.1 229L485.0 228L484.9 227L484.7 226L484.6 225L484.4 224L484.3 223L484.2 222L484.1 221L483.9 220L483.8 219L483.7 218L483.5 217L483.4 216L483.3 215L483.2 214L483.0 213L482.9 212L482.8 211L482.7 210L482.6 209L482.4 208L482.3 207L482.2 206L482.1 205L482.0 204L481.9 203L481.8 202L481.6 201L481.5 200L481.4 199L481.3 198L481.2 197L481.1 196L481.0 195L480.8 194L480.7 193L480.6 192L480.5 191L480.3 190L480.2 189L480.0 188L479.8 187L479.7 186L479.5 185L479.3 184L479.1 183L478.9 182L478.6 181L478.4 180L478.1 179L477.8 178L477.5 177L477.1 176L476.8 175L476.4 174L476.0 173L475.5 172L475.0 171L474.5 170L473.9 169L473.3 168L472.7 167L472.1 166Z"/>
<path fill="#0096f0" d="M471.3 172L471.3 173L471.3 174L471.3 175L471.3 176L471.3 177L471.3 178L471.3 179L471.3 180L471.3 181L471.3 182L471.3 183L471.3 184L471.3 185L471.3 186L471.3 187L471.3 188L471.3 189L471.3 190L471.3 191L471.3 192L471.3 193L471.3 194L471.3 195L471.3 196L471.3 197L471.3 198L471.3 199L471.3 200L471.3 201L471.3 202L471.3 203L471.3 204L471.3 205L471.3 206L471.3 207L471.3 208L471.6 209L472.1 210L472.5 211L473.0 212L473.3 213L473.7 214L474.1 215L474.6 216L475.0 217L475.5 218L475.9 219L476.4 220L476.8 221L477.2 222L477.5 223L477.9 224L478.2 225L478.6 226L478.9 227L479.3 228L479.6 229L479.9 230L480.2 231L480.5 232L480.7 233L480.9 234L481.1 235L481.3 236L481.5 237L481.7 238L481.8 239L482.0 240L482.1 241L482.3 242L482.5 243L482.6 244L482.8 245L483.0 246L483.1 247L483.3 248L483.5 249L483.6 250L483.8 251L484.0 252L484.1 253L484.3 254L484.5 255L484.6 256L484.8 257L484.9 258L485.1 259L485.3 260L485.4 261L485.6 262L485.8 263L485.9 264L486.1 265L486.3 266L486.5 267L486.7 268L486.8 269L487.0 270L487.2 271L487.4 272L487.6 273L487.8 274L488.0 275L488.2 276L488.4 277L488.7 278L488.9 279L489.1 280L489.1 280L489.2 279L489.1 278L489.0 277L488.9 276L488.8 275L488.7 274L488.6 273L488.5 272L488.4 271L488.3 270L488.2 269L488.1 268L488.0 267L487.9 266L487.8 265L487.6 264L487.5 263L487.4 262L487.3 261L487.2 260L487.1 259L487.0 258L486.9 257L486.8 256L486.7 255L486.6 254L486.5 253L486.4 252L486.3 251L486.1 250L486.0 249L485.9 248L485.9 247L485.8 246L485.7 245L485.6 244L485.5 243L485.4 242L485.3 241L485.2 240L485.1 239L485.0 238L484.8 237L484.7 236L484.6 235L484.5 234L484.4 233L484.2 232L484.1 231L484.0 230L483.8 229L483.7 228L483.6 227L483.4 226L483.3 225L483.1 224L483.0 223L482.9 222L482.7 221L482.6 220L482.5 219L482.4 218L482.2 217L482.1 216L482.0 215L481.9 214L481.7 213L481.6 212L481.5 211L481.3 210L481.2 209L481.1 208L480.9 207L480.8 206L480.6 205L480.5 204L480.3 203L480.1 202L480.0 201L479.8 200L479.6 199L479.4 198L479.3 197L479.2 196L479.0 195L478.9 194L478.8 193L478.7 192L478.6 191L478.5 190L478.3 189L478.2 188L478.0 187L477.8 186L477.6 185L477.4 184L477.2 183L476.9 182L476.7 181L476.4 180L476.1 179L475.8 178L475.4 177L475.0 176L474.5 175L473.9 174L473.2 173L472.2 172Z"/>
<path fill="#00be9b" d="M471.3 175L471.3 176L471.3 177L471.3 178L471.3 179L471.3 180L471.3 181L471.3 182L471.3 183L471.3 184L471.3 185L471.3 186L471.3 187L471.3 188L471.3 189L471.3 190L471.3 191L471.3 192L471.3 193L471.3 194L471.3 195L471.3 196L471.3 197L471.3 198L471.3 199L471.3 200L471.3 201L471.3 202L471.3 203L471.3 204L471.4 205L472.1 206L472.9 207L473.5 208L474.1 209L474.6 210L475.0 211L475.4 212L475.8 213L476.2 214L476.6 215L477.0 216L477.4 217L477.8 218L478.2 219L478.5 220L478.9 221L479.3 222L479.6 223L479.9 224L480.3 225L480.6 226L480.9 227L481.2 228L481.4 229L481.7 230L481.9 231L482.1 232L482.3 233L482.5 234L482.6 235L482.8 236L483.0 237L483.1 238L483.3 239L483.4 240L483.5 240L483.5 239L483.5 238L483.4 237L483.3 236L483.2 235L483.1 234L483.0 233L482.9 232L482.8 231L482.7 230L482.5 229L482.4 228L482.3 227L482.2 226L482.1 225L482.0 224L481.8 223L481.7 222L481.6 221L481.5 220L481.4 219L481.3 218L481.2 217L481.1 216L480.9 215L480.8 214L480.7 213L480.6 212L480.4 211L480.3 210L480.2 209L480.0 208L479.9 207L479.7 206L479.6 205L479.4 204L479.2 203L478.9 202L478.7 201L478.5 200L478.3 199L478.1 198L477.9 197L477.8 196L477.6 195L477.5 194L477.5 193L477.4 192L477.3 191L477.2 190L477.1 189L476.9 188L476.6 187L476.4 186L476.2 185L476.0 184L475.7 183L475.5 182L475.2 181L474.9 180L474.6 179L474.2 178L473.7 177L473.0 176L471.7 175Z"/>
<path fill="#00c850" d="M471.3 178L471.3 179L471.3 180L471.3 181L471.3 182L471.3 183L471.3 184L471.3 185L471.3 186L471.3 187L471.3 188L471.3 189L471.3 190L471.3 191L471.3 192L471.3 193L471.3 194L471.3 195L471.3 196L471.3 197L471.3 198L471.3 199L471.3 200L471.3 201L471.7 202L472.3 203L473.1 204L473.8 205L474.5 206L475.1 207L475.7 208L476.2 209L476.7 210L477.1 211L477.5 212L477.9 213L478.3 214L478.7 215L479.1 216L479.7 216L479.6 215L479.6 214L479.5 213L479.4 212L479.3 211L479.2 210L479.1 209L479.0 208L478.8 207L478.7 206L478.5 205L478.3 204L478.1 203L477.8 202L477.5 201L477.2 200L477.0 199L476.8 198L476.6 197L476.5 196L476.4 195L476.3 194L476.3 193L476.3 192L476.2 191L476.1 190L476.0 189L475.7 188L475.5 187L475.2 186L475.0 185L474.7 184L474.4 183L474.2 182L473.8 181L473.4 180L473.0 179L472.2 178Z"/>
<path fill="#00c800" d="M471.3 182L471.3 183L471.3 184L471.3 185L471.3 186L471.3 187L471.3 188L471.3 189L471.3 190L471.3 191L471.3 192L471.3 193L471.3 194L471.3 195L471.3 196L471.3 197L471.5 198L472.2 199L472.9 200L473.6 201L474.4 202L475.2 203L475.9 204L476.8 204L476.6 203L476.3 202L476.1 201L475.8 200L475.6 199L475.4 198L475.2 197L475.1 196L475.1 195L475.1 194L475.1 193L475.2 192L475.2 191L475.1 190L474.9 189L474.7 188L474.3 187L474.0 186L473.6 185L473.3 184L472.9 183L472.4 182Z"/>
<path fill="#3cd200" d="M471.3 186L471.3 187L471.3 188L471.3 189L471.3 190L471.3 191L471.3 192L471.3 193L471.9 194L473.2 194L473.6 193L473.9 192L474.0 191L474.0 190L473.8 189L473.4 188L472.9 187L472.1 186Z"/>
</g></g>
<rect x="470.15" y="62.00" width="1.15" height="265.95" fill="#000"/>
<rect x="470.15" y="326.80" width="62.65" height="1.15" fill="#000"/>
<rect x="471.30" y="241.81" width="2.3" height="1.1" fill="#000"/>
<rect x="471.30" y="156.77" width="2.3" height="1.1" fill="#000"/>
<rect x="471.30" y="71.73" width="2.3" height="1.1" fill="#000"/>
<rect x="483.07" y="321.80" width="1" height="5.20" fill="#000" opacity="0.9"/>
<rect x="495.34" y="321.80" width="1" height="5.20" fill="#000" opacity="0.9"/>
<rect x="507.61" y="321.80" width="1" height="5.20" fill="#000" opacity="0.9"/>
<rect x="519.88" y="321.80" width="1" height="5.20" fill="#000" opacity="0.9"/>
<rect x="531.70" y="317.00" width="1.1" height="10.00" fill="#000" opacity="0.9"/>
<clipPath id="c6"><rect x="537.10" y="62.00" width="61.90" height="265.80"/></clipPath>
<rect x="536.90" y="62.00" width="62.10" height="265.80" fill="#0000be"/>
<g clip-path="url(#c6)"><g filter="url(#bl)">
<path fill="#0041d7" d="M537.4 165L537.4 166L537.4 167L537.4 168L537.4 169L537.4 170L537.4 171L537.4 172L537.4 173L537.4 174L537.4 175L537.4 176L537.4 177L537.4 178L537.4 179L537.4 180L537.4 181L537.4 182L537.4 183L537.4 184L537.4 185L537.4 186L537.4 187L537.4 188L537.4 189L537.4 190L537.4 191L537.4 192L537.4 193L537.4 194L537.4 195L537.4 196L537.4 197L537.4 198L537.4 199L537.4 200L537.4 201L537.4 202L537.4 203L537.4 204L537.4 205L537.4 206L537.4 207L537.4 208L537.4 209L537.4 210L537.4 211L537.4 212L537.4 213L537.8 214L538.5 215L539.2 216L539.8 217L540.3 218L540.7 219L541.1 220L541.5 221L541.9 222L542.2 223L542.6 224L542.9 225L543.2 226L543.6 227L543.9 228L544.3 229L544.6 230L544.9 231L545.2 232L545.4 233L545.7 234L545.9 235L546.1 236L546.3 237L546.5 238L546.6 239L546.8 240L547.0 241L547.1 242L547.3 243L547.5 244L547.6 245L547.8 246L547.9 247L548.1 248L548.2 249L548.4 250L548.6 251L548.7 252L548.9 253L549.0 254L549.2 255L549.3 256L549.5 257L549.6 258L549.8 259L549.9 260L550.0 261L550.2 262L550.3 263L550.5 264L550.6 265L550.8 266L550.9 267L551.1 268L551.3 269L551.4 270L551.6 271L551.7 272L551.9 273L552.1 274L552.2 275L552.4 276L552.6 277L552.8 278L552.9 279L553.1 280L553.3 281L553.5 282L553.7 283L553.9 284L554.1 285L554.3 286L554.5 287L554.7 288L554.9 289L555.2 290L555.4 291L555.7 292L555.9 293L556.2 294L556.4 295L556.7 296L556.9 297L557.2 298L557.4 299L557.7 300L557.9 301L558.1 302L558.4 303L558.6 304L558.8 305L560.4 305L560.2 304L560.0 303L559.8 302L559.6 301L559.4 300L559.2 299L559.1 298L558.9 297L558.7 296L558.5 295L558.4 294L558.2 293L558.0 292L557.9 291L557.7 290L557.5 289L557.4 288L557.2 287L557.1 286L556.9 285L556.8 284L556.7 283L556.5 282L556.4 281L556.3 280L556.1 279L556.0 278L555.9 277L555.7 276L555.6 275L555.5 274L555.4 273L555.3 272L555.1 271L555.0 270L554.9 269L554.8 268L554.7 267L554.6 266L554.5 265L554.4 264L554.3 263L554.1 262L554.0 261L553.9 260L553.8 259L553.7 258L553.6 257L553.5 256L553.4 255L553.3 254L553.2 253L553.1 252L553.0 251L552.9 250L552.8 249L552.7 248L552.6 247L552.5 246L552.4 245L552.3 244L552.2 243L552.1 242L552.0 241L551.9 240L551.8 239L551.7 238L551.6 237L551.5 236L551.4 235L551.3 234L551.2 233L551.1 232L551.0 231L550.9 230L550.8 229L550.6 228L550.5 227L550.4 226L550.3 225L550.2 224L550.0 223L549.9 222L549.8 221L549.7 220L549.6 219L549.4 218L549.3 217L549.2 216L549.1 215L549.0 214L548.8 213L548.7 212L548.6 211L548.5 210L548.3 209L548.2 208L548.1 207L547.9 206L547.8 205L547.7 204L547.5 203L547.4 202L547.2 201L547.1 200L546.9 199L546.8 198L546.6 197L546.5 196L546.4 195L546.2 194L546.1 193L545.9 192L545.8 191L545.6 190L545.4 189L545.3 188L545.1 187L545.0 186L544.8 185L544.6 184L544.5 183L544.3 182L544.1 181L543.9 180L543.7 179L543.5 178L543.2 177L543.0 176L542.7 175L542.3 174L541.9 173L541.5 172L541.1 171L540.6 170L540.1 169L539.6 168L539.0 167L538.4 166L538.0 165Z"/>
<path fill="#0041d7" d="M560.3 312L560.5 313L560.8 314L562.5 314L562.3 313L562.1 312Z"/>
<path fill="#0096f0" d="M537.4 170L537.4 171L537.4 172L537.4 173L537.4 174L537.4 175L537.4 176L537.4 177L537.4 178L537.4 179L537.4 180L537.4 181L537.4 182L537.4 183L537.4 184L537.4 185L537.4 186L537.4 187L537.4 188L537.4 189L537.4 190L537.4 191L537.4 192L537.4 193L537.4 194L537.4 195L537.4 196L537.4 197L537.4 198L537.4 199L537.4 200L537.4 201L537.4 202L537.4 203L537.4 204L537.4 205L537.4 206L537.5 207L538.1 208L538.6 209L539.1 210L539.6 211L540.1 212L540.5 213L541.1 214L541.6 215L542.1 216L542.5 217L543.0 218L543.4 219L543.8 220L544.2 221L544.5 222L544.8 223L545.1 224L545.4 225L545.7 226L546.0 227L546.2 228L546.5 229L546.7 230L547.0 231L547.2 232L547.4 233L547.6 234L547.8 235L548.0 236L548.2 237L548.4 238L548.6 239L548.8 240L549.0 241L549.2 242L549.4 243L549.6 244L549.9 245L550.1 246L550.3 247L550.5 248L550.8 248L550.8 247L550.8 246L550.8 245L550.8 244L550.7 243L550.7 242L550.6 241L550.5 240L550.4 239L550.4 238L550.3 237L550.2 236L550.1 235L550.0 234L549.9 233L549.8 232L549.7 231L549.6 230L549.5 229L549.4 228L549.3 227L549.2 226L549.1 225L549.0 224L548.9 223L548.8 222L548.7 221L548.6 220L548.6 219L548.4 218L548.3 217L548.2 216L548.0 215L547.9 214L547.8 213L547.6 212L547.5 211L547.3 210L547.2 209L547.0 208L546.9 207L546.7 206L546.5 205L546.3 204L546.1 203L545.9 202L545.7 201L545.5 200L545.3 199L545.1 198L544.9 197L544.7 196L544.6 195L544.4 194L544.2 193L544.1 192L544.0 191L543.9 190L543.7 189L543.6 188L543.4 187L543.3 186L543.1 185L542.9 184L542.8 183L542.6 182L542.4 181L542.3 180L542.1 179L541.9 178L541.6 177L541.4 176L541.1 175L540.7 174L540.3 173L539.8 172L539.2 171L538.5 170Z"/>
<path fill="#00be9b" d="M537.4 172L537.4 173L537.4 174L537.4 175L537.4 176L537.4 177L537.4 178L537.4 179L537.4 180L537.4 181L537.4 182L537.4 183L537.4 184L537.4 185L537.4 186L537.4 187L537.4 188L537.4 189L537.4 190L537.4 191L537.4 192L537.4 193L537.4 194L537.4 195L537.4 196L537.4 197L537.4 198L537.4 199L537.4 200L537.4 201L537.4 202L537.4 203L538.0 204L538.8 205L539.6 206L540.2 207L540.8 208L541.2 209L541.6 210L542.0 211L542.4 212L542.8 213L543.2 214L543.6 215L544.0 216L544.4 217L544.8 218L545.2 219L545.6 220L546.0 221L546.4 222L546.7 223L547.0 224L547.3 225L547.6 226L547.7 226L547.8 225L547.8 224L547.8 223L547.8 222L547.8 221L547.7 220L547.7 219L547.6 218L547.5 217L547.3 216L547.2 215L547.0 214L546.9 213L546.7 212L546.6 211L546.4 210L546.3 209L546.1 208L545.9 207L545.7 206L545.5 205L545.3 204L545.1 203L544.9 202L544.6 201L544.3 200L544.1 199L543.9 198L543.6 197L543.4 196L543.2 195L543.1 194L542.9 193L542.8 192L542.7 191L542.6 190L542.5 189L542.4 188L542.2 187L542.0 186L541.9 185L541.7 184L541.5 183L541.4 182L541.2 181L541.0 180L540.8 179L540.6 178L540.4 177L540.1 176L539.8 175L539.4 174L538.8 173L537.7 172Z"/>
<path fill="#00c850" d="M537.4 175L537.4 176L537.4 177L537.4 178L537.4 179L537.4 180L537.4 181L537.4 182L537.4 183L537.4 184L537.4 185L537.4 186L537.4 187L537.4 188L537.4 189L537.4 190L537.4 191L537.4 192L537.4 193L537.4 194L537.4 195L537.4 196L537.4 197L537.4 198L537.4 199L537.5 200L538.3 201L539.1 202L539.9 203L540.6 204L541.3 205L541.9 206L542.5 207L542.9 208L543.3 209L543.7 210L544.0 211L544.3 212L544.7 213L545.0 214L545.3 215L545.7 216L546.0 217L546.4 217L546.3 216L546.2 215L546.0 214L545.9 213L545.7 212L545.6 211L545.4 210L545.3 209L545.1 208L544.9 207L544.7 206L544.5 205L544.3 204L544.1 203L543.8 202L543.5 201L543.2 200L542.9 199L542.7 198L542.4 197L542.2 196L542.0 195L541.9 194L541.7 193L541.7 192L541.6 191L541.6 190L541.5 189L541.3 188L541.1 187L541.0 186L540.8 185L540.6 184L540.4 183L540.2 182L540.1 181L539.9 180L539.6 179L539.4 178L539.1 177L538.8 176L538.3 175Z"/>
<path fill="#00c800" d="M537.4 179L537.4 180L537.4 181L537.4 182L537.4 183L537.4 184L537.4 185L537.4 186L537.4 187L537.4 188L537.4 189L537.4 190L537.4 191L537.4 192L537.4 193L537.4 194L537.4 195L537.7 196L538.5 197L539.3 198L540.2 199L541.3 199L541.1 198L540.9 197L540.7 196L540.6 195L540.5 194L540.5 193L540.5 192L540.5 191L540.5 190L540.4 189L540.3 188L540.1 187L539.8 186L539.6 185L539.4 184L539.2 183L539.0 182L538.7 181L538.4 180L537.8 179Z"/>
<path fill="#3cd200" d="M537.4 186L537.4 187L537.4 188L537.4 189L537.4 190L537.4 191L538.9 191L539.1 190L539.2 189L539.0 188L538.7 187L538.2 186Z"/>
</g></g>
<rect x="536.25" y="62.00" width="1.15" height="265.95" fill="#000"/>
<rect x="536.25" y="326.80" width="62.75" height="1.15" fill="#000"/>
<rect x="537.40" y="241.81" width="2.3" height="1.1" fill="#000"/>
<rect x="537.40" y="156.77" width="2.3" height="1.1" fill="#000"/>
<rect x="537.40" y="71.73" width="2.3" height="1.1" fill="#000"/>
<rect x="549.19" y="321.80" width="1" height="5.20" fill="#000" opacity="0.9"/>
<rect x="561.48" y="321.80" width="1" height="5.20" fill="#000" opacity="0.9"/>
<rect x="573.77" y="321.80" width="1" height="5.20" fill="#000" opacity="0.9"/>
<rect x="586.06" y="321.80" width="1" height="5.20" fill="#000" opacity="0.9"/>
<rect x="597.90" y="317.00" width="1.1" height="10.00" fill="#000" opacity="0.9"/>
<text x="131.7" y="78.2" font-size="17.6" text-anchor="end">6</text>
<text x="131.7" y="163.3" font-size="17.6" text-anchor="end">4</text>
<text x="131.7" y="248.4" font-size="17.6" text-anchor="end">2</text>
<text x="129" y="340.2" font-size="16" font-weight="bold" text-anchor="middle">0</text>
<text x="198.2" y="342.3" font-size="16" font-weight="bold" text-anchor="middle">1.5</text>
<text transform="translate(111.4 194.5) rotate(-90) scale(1.005 0.9)" font-size="20" font-weight="bold" text-anchor="middle">z (cm)</text>
<text transform="translate(363.6 355.2) scale(1 0.9)" font-size="20" font-weight="bold" text-anchor="middle">r (cm)</text>
<text x="88.2" y="384.6" font-size="13.6" text-anchor="middle" fill="#111">Case</text>
<text x="88.4" y="404.8" font-size="13.6" text-anchor="middle" fill="#111">Peak</text>
<text x="86.8" y="424.8" font-size="13.6" text-anchor="middle" fill="#111">(g/cm<tspan font-size="8.5" dy="-5">3</tspan><tspan dy="5">·s)</tspan></text>
<text x="156.30" y="384.6" font-size="13.6" text-anchor="middle" fill="#111">1</text>
<text x="155.70" y="415.5" font-size="13.6" text-anchor="middle" fill="#111">1.45×10<tspan font-size="8.5" dy="-5">-4</tspan></text>
<text x="225.75" y="384.6" font-size="13.6" text-anchor="middle" fill="#111">2</text>
<text x="225.15" y="415.5" font-size="13.6" text-anchor="middle" fill="#111">1.36×10<tspan font-size="8.5" dy="-5">-4</tspan></text>
<text x="295.20" y="384.6" font-size="13.6" text-anchor="middle" fill="#111">6</text>
<text x="294.60" y="415.5" font-size="13.6" text-anchor="middle" fill="#111">1.20×10<tspan font-size="8.5" dy="-5">-4</tspan></text>
<text x="364.65" y="384.6" font-size="13.6" text-anchor="middle" fill="#111">7</text>
<text x="364.05" y="415.5" font-size="13.6" text-anchor="middle" fill="#111">9.50×10<tspan font-size="8.5" dy="-5">-5</tspan></text>
<text x="434.10" y="384.6" font-size="13.6" text-anchor="middle" fill="#111">8</text>
<text x="433.50" y="415.5" font-size="13.6" text-anchor="middle" fill="#111">8.54×10<tspan font-size="8.5" dy="-5">-5</tspan></text>
<text x="503.55" y="384.6" font-size="13.6" text-anchor="middle" fill="#111">9</text>
<text x="502.95" y="415.5" font-size="13.6" text-anchor="middle" fill="#111">6.98×10<tspan font-size="8.5" dy="-5">-5</tspan></text>
<text x="573.00" y="384.6" font-size="13.6" text-anchor="middle" fill="#111">4</text>
<text x="572.40" y="415.5" font-size="13.6" text-anchor="middle" fill="#111">6.45×10<tspan font-size="8.5" dy="-5">-5</tspan></text>
</svg>
</body></html>
